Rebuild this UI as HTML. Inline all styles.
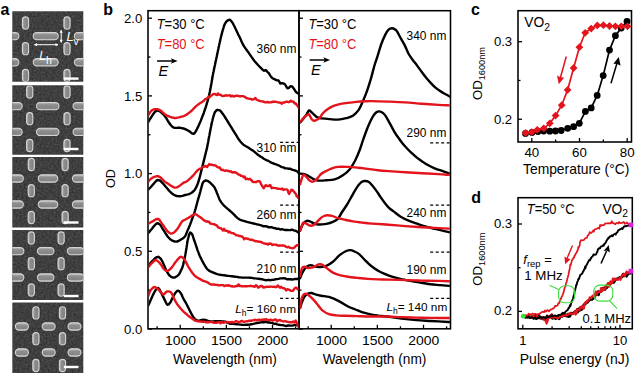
<!DOCTYPE html>
<html><head><meta charset="utf-8"><style>
html,body{margin:0;padding:0;background:#fff;width:635px;height:373px;overflow:hidden}
svg{display:block}
</style></head><body>
<svg width="635" height="373" viewBox="0 0 635 373" font-family='"Liberation Sans", sans-serif'><text x="0.60" y="14.50" font-size="16" text-anchor="start" fill="#000" font-weight="bold" >a</text>
<text x="103.30" y="14.50" font-size="16" text-anchor="start" fill="#000" font-weight="bold" >b</text>
<text x="471.00" y="14.80" font-size="16" text-anchor="start" fill="#000" font-weight="bold" >c</text>
<text x="471.30" y="202.80" font-size="16" text-anchor="start" fill="#000" font-weight="bold" >d</text>
<defs><filter id="noise" x="0" y="0" width="100%" height="100%" color-interpolation-filters="sRGB"><feTurbulence type="fractalNoise" baseFrequency="0.5" numOctaves="2" seed="3"/><feColorMatrix type="matrix" values="0.2 0 0 0 0.15  0.2 0 0 0 0.15  0.2 0 0 0 0.15  0 0 0 0 1"/></filter><filter id="tex" x="0" y="0" width="100%" height="100%" color-interpolation-filters="sRGB"><feTurbulence type="fractalNoise" baseFrequency="0.9" numOctaves="2" seed="11"/><feColorMatrix type="matrix" values="0 0 0 0 0  0 0 0 0 0  0 0 0 0 0  0 0 0 -1.2 0.6"/></filter><linearGradient id="rodh" x1="0" y1="0" x2="0" y2="1"><stop offset="0" stop-color="#c4c4c4"/><stop offset="0.3" stop-color="#929292"/><stop offset="0.8" stop-color="#858585"/><stop offset="1" stop-color="#a8a8a8"/></linearGradient><linearGradient id="rodv" x1="0" y1="0" x2="1" y2="0"><stop offset="0" stop-color="#c0c0c0"/><stop offset="0.3" stop-color="#909090"/><stop offset="0.8" stop-color="#848484"/><stop offset="1" stop-color="#a4a4a4"/></linearGradient></defs>
<clipPath id="clip0"><rect x="12.3" y="11.3" width="71.00" height="70.40"/></clipPath>
<g clip-path="url(#clip0)">
<rect x="12.3" y="11.3" width="71.00" height="70.40" fill="#454545" filter="url(#noise)"/>
<rect x="22.40" y="16.90" width="6.2" height="12.2" rx="3.1" fill="url(#rodv)" stroke="#d6d6d6" stroke-width="1.1"/>
<rect x="22.40" y="42.60" width="6.2" height="12.2" rx="3.1" fill="url(#rodv)" stroke="#d6d6d6" stroke-width="1.1"/>
<rect x="22.40" y="69.40" width="6.2" height="12.2" rx="3.1" fill="url(#rodv)" stroke="#d6d6d6" stroke-width="1.1"/>
<rect x="63.90" y="16.90" width="6.2" height="12.2" rx="3.1" fill="url(#rodv)" stroke="#d6d6d6" stroke-width="1.1"/>
<rect x="63.90" y="42.60" width="6.2" height="12.2" rx="3.1" fill="url(#rodv)" stroke="#d6d6d6" stroke-width="1.1"/>
<rect x="63.90" y="69.40" width="6.2" height="12.2" rx="3.1" fill="url(#rodv)" stroke="#d6d6d6" stroke-width="1.1"/>
<rect x="-6.10" y="32.45" width="25" height="7.3" rx="3.6" fill="url(#rodh)" stroke="#d6d6d6" stroke-width="1.1"/>
<rect x="-6.10" y="58.65" width="25" height="7.3" rx="3.6" fill="url(#rodh)" stroke="#d6d6d6" stroke-width="1.1"/>
<rect x="33.20" y="32.45" width="25" height="7.3" rx="3.6" fill="url(#rodh)" stroke="#d6d6d6" stroke-width="1.1"/>
<rect x="33.20" y="58.65" width="25" height="7.3" rx="3.6" fill="url(#rodh)" stroke="#d6d6d6" stroke-width="1.1"/>
<rect x="74.40" y="32.45" width="25" height="7.3" rx="3.6" fill="url(#rodh)" stroke="#d6d6d6" stroke-width="1.1"/>
<rect x="74.40" y="58.65" width="25" height="7.3" rx="3.6" fill="url(#rodh)" stroke="#d6d6d6" stroke-width="1.1"/>
<rect x="12.3" y="11.3" width="71.00" height="70.40" filter="url(#tex)" opacity="0.22"/>
<rect x="63.8" y="77.40" width="14.7" height="2.4" fill="#fff"/>
</g>
<clipPath id="clip1"><rect x="12.3" y="85.2" width="71.00" height="69.50"/></clipPath>
<g clip-path="url(#clip1)">
<rect x="12.3" y="85.2" width="71.00" height="69.50" fill="#454545" filter="url(#noise)"/>
<rect x="26.60" y="85.90" width="6.2" height="12.2" rx="3.1" fill="url(#rodv)" stroke="#d6d6d6" stroke-width="1.1"/>
<rect x="26.60" y="112.60" width="6.2" height="12.2" rx="3.1" fill="url(#rodv)" stroke="#d6d6d6" stroke-width="1.1"/>
<rect x="26.60" y="139.40" width="6.2" height="12.2" rx="3.1" fill="url(#rodv)" stroke="#d6d6d6" stroke-width="1.1"/>
<rect x="63.90" y="85.90" width="6.2" height="12.2" rx="3.1" fill="url(#rodv)" stroke="#d6d6d6" stroke-width="1.1"/>
<rect x="63.90" y="112.60" width="6.2" height="12.2" rx="3.1" fill="url(#rodv)" stroke="#d6d6d6" stroke-width="1.1"/>
<rect x="63.90" y="139.40" width="6.2" height="12.2" rx="3.1" fill="url(#rodv)" stroke="#d6d6d6" stroke-width="1.1"/>
<rect x="-0.35" y="102.45" width="22.5" height="7.3" rx="3.6" fill="url(#rodh)" stroke="#d6d6d6" stroke-width="1.1"/>
<rect x="-0.35" y="128.25" width="22.5" height="7.3" rx="3.6" fill="url(#rodh)" stroke="#d6d6d6" stroke-width="1.1"/>
<rect x="36.45" y="102.45" width="22.5" height="7.3" rx="3.6" fill="url(#rodh)" stroke="#d6d6d6" stroke-width="1.1"/>
<rect x="36.45" y="128.25" width="22.5" height="7.3" rx="3.6" fill="url(#rodh)" stroke="#d6d6d6" stroke-width="1.1"/>
<rect x="73.05" y="102.45" width="22.5" height="7.3" rx="3.6" fill="url(#rodh)" stroke="#d6d6d6" stroke-width="1.1"/>
<rect x="73.05" y="128.25" width="22.5" height="7.3" rx="3.6" fill="url(#rodh)" stroke="#d6d6d6" stroke-width="1.1"/>
<rect x="12.3" y="85.2" width="71.00" height="69.50" filter="url(#tex)" opacity="0.22"/>
<rect x="63.8" y="147.80" width="14.7" height="2.4" fill="#fff"/>
</g>
<clipPath id="clip2"><rect x="12.3" y="157.1" width="71.00" height="70.30"/></clipPath>
<g clip-path="url(#clip2)">
<rect x="12.3" y="157.1" width="71.00" height="70.30" fill="#454545" filter="url(#noise)"/>
<rect x="28.20" y="158.40" width="6.2" height="12.2" rx="3.1" fill="url(#rodv)" stroke="#d6d6d6" stroke-width="1.1"/>
<rect x="28.20" y="184.60" width="6.2" height="12.2" rx="3.1" fill="url(#rodv)" stroke="#d6d6d6" stroke-width="1.1"/>
<rect x="28.20" y="211.40" width="6.2" height="12.2" rx="3.1" fill="url(#rodv)" stroke="#d6d6d6" stroke-width="1.1"/>
<rect x="62.00" y="158.40" width="6.2" height="12.2" rx="3.1" fill="url(#rodv)" stroke="#d6d6d6" stroke-width="1.1"/>
<rect x="62.00" y="184.60" width="6.2" height="12.2" rx="3.1" fill="url(#rodv)" stroke="#d6d6d6" stroke-width="1.1"/>
<rect x="62.00" y="211.40" width="6.2" height="12.2" rx="3.1" fill="url(#rodv)" stroke="#d6d6d6" stroke-width="1.1"/>
<rect x="3.85" y="174.85" width="19.5" height="7.3" rx="3.6" fill="url(#rodh)" stroke="#d6d6d6" stroke-width="1.1"/>
<rect x="3.85" y="200.85" width="19.5" height="7.3" rx="3.6" fill="url(#rodh)" stroke="#d6d6d6" stroke-width="1.1"/>
<rect x="38.25" y="174.85" width="19.5" height="7.3" rx="3.6" fill="url(#rodh)" stroke="#d6d6d6" stroke-width="1.1"/>
<rect x="38.25" y="200.85" width="19.5" height="7.3" rx="3.6" fill="url(#rodh)" stroke="#d6d6d6" stroke-width="1.1"/>
<rect x="72.45" y="174.85" width="19.5" height="7.3" rx="3.6" fill="url(#rodh)" stroke="#d6d6d6" stroke-width="1.1"/>
<rect x="72.45" y="200.85" width="19.5" height="7.3" rx="3.6" fill="url(#rodh)" stroke="#d6d6d6" stroke-width="1.1"/>
<rect x="12.3" y="157.1" width="71.00" height="70.30" filter="url(#tex)" opacity="0.22"/>
<rect x="63.8" y="221.30" width="14.7" height="2.4" fill="#fff"/>
</g>
<clipPath id="clip3"><rect x="12.3" y="230.0" width="71.00" height="70.10"/></clipPath>
<g clip-path="url(#clip3)">
<rect x="12.3" y="230.0" width="71.00" height="70.10" fill="#454545" filter="url(#noise)"/>
<rect x="28.20" y="231.90" width="6.2" height="12.2" rx="3.1" fill="url(#rodv)" stroke="#d6d6d6" stroke-width="1.1"/>
<rect x="28.20" y="257.60" width="6.2" height="12.2" rx="3.1" fill="url(#rodv)" stroke="#d6d6d6" stroke-width="1.1"/>
<rect x="28.20" y="283.90" width="6.2" height="12.2" rx="3.1" fill="url(#rodv)" stroke="#d6d6d6" stroke-width="1.1"/>
<rect x="58.00" y="231.90" width="6.2" height="12.2" rx="3.1" fill="url(#rodv)" stroke="#d6d6d6" stroke-width="1.1"/>
<rect x="58.00" y="257.60" width="6.2" height="12.2" rx="3.1" fill="url(#rodv)" stroke="#d6d6d6" stroke-width="1.1"/>
<rect x="58.00" y="283.90" width="6.2" height="12.2" rx="3.1" fill="url(#rodv)" stroke="#d6d6d6" stroke-width="1.1"/>
<rect x="7.35" y="247.45" width="16.5" height="7.3" rx="3.6" fill="url(#rodh)" stroke="#d6d6d6" stroke-width="1.1"/>
<rect x="7.35" y="273.85" width="16.5" height="7.3" rx="3.6" fill="url(#rodh)" stroke="#d6d6d6" stroke-width="1.1"/>
<rect x="37.45" y="247.45" width="16.5" height="7.3" rx="3.6" fill="url(#rodh)" stroke="#d6d6d6" stroke-width="1.1"/>
<rect x="37.45" y="273.85" width="16.5" height="7.3" rx="3.6" fill="url(#rodh)" stroke="#d6d6d6" stroke-width="1.1"/>
<rect x="67.35" y="247.45" width="16.5" height="7.3" rx="3.6" fill="url(#rodh)" stroke="#d6d6d6" stroke-width="1.1"/>
<rect x="67.35" y="273.85" width="16.5" height="7.3" rx="3.6" fill="url(#rodh)" stroke="#d6d6d6" stroke-width="1.1"/>
<rect x="12.3" y="230.0" width="71.00" height="70.10" filter="url(#tex)" opacity="0.22"/>
<rect x="63.8" y="294.80" width="14.7" height="2.4" fill="#fff"/>
</g>
<clipPath id="clip4"><rect x="12.3" y="302.6" width="71.00" height="70.90"/></clipPath>
<g clip-path="url(#clip4)">
<rect x="12.3" y="302.6" width="71.00" height="70.90" fill="#454545" filter="url(#noise)"/>
<rect x="32.80" y="306.80" width="6.2" height="12.2" rx="3.1" fill="url(#rodv)" stroke="#d6d6d6" stroke-width="1.1"/>
<rect x="32.80" y="332.60" width="6.2" height="12.2" rx="3.1" fill="url(#rodv)" stroke="#d6d6d6" stroke-width="1.1"/>
<rect x="32.80" y="359.40" width="6.2" height="12.2" rx="3.1" fill="url(#rodv)" stroke="#d6d6d6" stroke-width="1.1"/>
<rect x="59.40" y="306.80" width="6.2" height="12.2" rx="3.1" fill="url(#rodv)" stroke="#d6d6d6" stroke-width="1.1"/>
<rect x="59.40" y="332.60" width="6.2" height="12.2" rx="3.1" fill="url(#rodv)" stroke="#d6d6d6" stroke-width="1.1"/>
<rect x="59.40" y="359.40" width="6.2" height="12.2" rx="3.1" fill="url(#rodv)" stroke="#d6d6d6" stroke-width="1.1"/>
<rect x="15.40" y="322.85" width="13" height="7.3" rx="3.6" fill="url(#rodh)" stroke="#d6d6d6" stroke-width="1.1"/>
<rect x="15.40" y="348.85" width="13" height="7.3" rx="3.6" fill="url(#rodh)" stroke="#d6d6d6" stroke-width="1.1"/>
<rect x="42.20" y="322.85" width="13" height="7.3" rx="3.6" fill="url(#rodh)" stroke="#d6d6d6" stroke-width="1.1"/>
<rect x="42.20" y="348.85" width="13" height="7.3" rx="3.6" fill="url(#rodh)" stroke="#d6d6d6" stroke-width="1.1"/>
<rect x="68.00" y="322.85" width="13" height="7.3" rx="3.6" fill="url(#rodh)" stroke="#d6d6d6" stroke-width="1.1"/>
<rect x="68.00" y="348.85" width="13" height="7.3" rx="3.6" fill="url(#rodh)" stroke="#d6d6d6" stroke-width="1.1"/>
<rect x="12.3" y="302.6" width="71.00" height="70.90" filter="url(#tex)" opacity="0.22"/>
<rect x="63.8" y="365.80" width="14.7" height="2.4" fill="#fff"/>
</g>
<line x1="34.50" y1="44.70" x2="58.00" y2="44.70" stroke="#fff" stroke-width="1.0"/>
<path d="M34,44.7 l3,-1.6 v3.2z M58.5,44.7 l-3,-1.6 v3.2z" fill="#fff"/>
<line x1="61.20" y1="30.30" x2="61.20" y2="42.30" stroke="#fff" stroke-width="1.0"/>
<path d="M61.2,29.8 l-1.6,3 h3.2z M61.2,42.8 l-1.6,-3 h3.2z" fill="#fff"/>
<text x="66.6" y="40.8" font-size="13" fill="#fff" font-style="italic">L<tspan font-size="10.5" font-style="normal" dx="-0.3" dy="4.3">v</tspan></text>
<text x="39.2" y="59.8" font-size="12" fill="#fff" font-style="italic">L<tspan font-size="10.5" font-style="normal" dy="3.8">h</tspan></text>
<rect x="148.0" y="10.7" width="151.0" height="318.1" fill="none" stroke="#000" stroke-width="1.55"/>
<line x1="148.00" y1="329.00" x2="152.00" y2="329.00" stroke="#000" stroke-width="1.3"/>
<line x1="148.00" y1="290.15" x2="150.50" y2="290.15" stroke="#000" stroke-width="1.3"/>
<line x1="148.00" y1="251.30" x2="152.00" y2="251.30" stroke="#000" stroke-width="1.3"/>
<line x1="148.00" y1="212.45" x2="150.50" y2="212.45" stroke="#000" stroke-width="1.3"/>
<line x1="148.00" y1="173.60" x2="152.00" y2="173.60" stroke="#000" stroke-width="1.3"/>
<line x1="148.00" y1="134.75" x2="150.50" y2="134.75" stroke="#000" stroke-width="1.3"/>
<line x1="148.00" y1="95.90" x2="152.00" y2="95.90" stroke="#000" stroke-width="1.3"/>
<line x1="148.00" y1="57.05" x2="150.50" y2="57.05" stroke="#000" stroke-width="1.3"/>
<line x1="148.00" y1="18.20" x2="152.00" y2="18.20" stroke="#000" stroke-width="1.3"/>
<line x1="157.14" y1="328.80" x2="157.14" y2="326.30" stroke="#000" stroke-width="1.3"/>
<line x1="180.21" y1="328.80" x2="180.21" y2="324.80" stroke="#000" stroke-width="1.3"/>
<text x="180.41" y="344.90" font-size="13.5" text-anchor="middle" fill="#000" textLength="31.0" lengthAdjust="spacingAndGlyphs" >1000</text>
<line x1="203.29" y1="328.80" x2="203.29" y2="326.30" stroke="#000" stroke-width="1.3"/>
<line x1="226.36" y1="328.80" x2="226.36" y2="324.80" stroke="#000" stroke-width="1.3"/>
<text x="226.56" y="344.90" font-size="13.5" text-anchor="middle" fill="#000" textLength="31.0" lengthAdjust="spacingAndGlyphs" >1500</text>
<line x1="249.44" y1="328.80" x2="249.44" y2="326.30" stroke="#000" stroke-width="1.3"/>
<line x1="272.51" y1="328.80" x2="272.51" y2="324.80" stroke="#000" stroke-width="1.3"/>
<text x="272.71" y="344.90" font-size="13.5" text-anchor="middle" fill="#000" textLength="31.0" lengthAdjust="spacingAndGlyphs" >2000</text>
<line x1="295.59" y1="328.80" x2="295.59" y2="326.30" stroke="#000" stroke-width="1.3"/>
<text x="225.00" y="363.70" font-size="14.2" text-anchor="middle" fill="#000" textLength="103.8" lengthAdjust="spacingAndGlyphs" >Wavelength (nm)</text>
<rect x="299.0" y="10.7" width="151.5" height="318.1" fill="none" stroke="#000" stroke-width="1.55"/>
<line x1="299.00" y1="329.00" x2="303.00" y2="329.00" stroke="#000" stroke-width="1.3"/>
<line x1="299.00" y1="290.15" x2="301.50" y2="290.15" stroke="#000" stroke-width="1.3"/>
<line x1="299.00" y1="251.30" x2="303.00" y2="251.30" stroke="#000" stroke-width="1.3"/>
<line x1="299.00" y1="212.45" x2="301.50" y2="212.45" stroke="#000" stroke-width="1.3"/>
<line x1="299.00" y1="173.60" x2="303.00" y2="173.60" stroke="#000" stroke-width="1.3"/>
<line x1="299.00" y1="134.75" x2="301.50" y2="134.75" stroke="#000" stroke-width="1.3"/>
<line x1="299.00" y1="95.90" x2="303.00" y2="95.90" stroke="#000" stroke-width="1.3"/>
<line x1="299.00" y1="57.05" x2="301.50" y2="57.05" stroke="#000" stroke-width="1.3"/>
<line x1="299.00" y1="18.20" x2="303.00" y2="18.20" stroke="#000" stroke-width="1.3"/>
<line x1="308.14" y1="328.80" x2="308.14" y2="326.30" stroke="#000" stroke-width="1.3"/>
<line x1="331.21" y1="328.80" x2="331.21" y2="324.80" stroke="#000" stroke-width="1.3"/>
<text x="331.41" y="344.90" font-size="13.5" text-anchor="middle" fill="#000" textLength="31.0" lengthAdjust="spacingAndGlyphs" >1000</text>
<line x1="354.29" y1="328.80" x2="354.29" y2="326.30" stroke="#000" stroke-width="1.3"/>
<line x1="377.36" y1="328.80" x2="377.36" y2="324.80" stroke="#000" stroke-width="1.3"/>
<text x="377.56" y="344.90" font-size="13.5" text-anchor="middle" fill="#000" textLength="31.0" lengthAdjust="spacingAndGlyphs" >1500</text>
<line x1="400.44" y1="328.80" x2="400.44" y2="326.30" stroke="#000" stroke-width="1.3"/>
<line x1="423.51" y1="328.80" x2="423.51" y2="324.80" stroke="#000" stroke-width="1.3"/>
<text x="423.71" y="344.90" font-size="13.5" text-anchor="middle" fill="#000" textLength="31.0" lengthAdjust="spacingAndGlyphs" >2000</text>
<line x1="446.59" y1="328.80" x2="446.59" y2="326.30" stroke="#000" stroke-width="1.3"/>
<text x="374.55" y="363.70" font-size="14.2" text-anchor="middle" fill="#000" textLength="103.8" lengthAdjust="spacingAndGlyphs" >Wavelength (nm)</text>
<text x="142.30" y="333.65" font-size="13" text-anchor="end" fill="#000" textLength="18.3" lengthAdjust="spacingAndGlyphs" >0.0</text>
<text x="142.30" y="255.95" font-size="13" text-anchor="end" fill="#000" textLength="18.3" lengthAdjust="spacingAndGlyphs" >0.5</text>
<text x="142.30" y="178.25" font-size="13" text-anchor="end" fill="#000" textLength="18.3" lengthAdjust="spacingAndGlyphs" >1.0</text>
<text x="142.30" y="100.55" font-size="13" text-anchor="end" fill="#000" textLength="18.3" lengthAdjust="spacingAndGlyphs" >1.5</text>
<text x="142.30" y="22.85" font-size="13" text-anchor="end" fill="#000" textLength="18.3" lengthAdjust="spacingAndGlyphs" >2.0</text>
<text x="0" y="0" font-size="13" text-anchor="middle" transform="translate(114.9,178.5) rotate(-90)" textLength="19" lengthAdjust="spacingAndGlyphs">OD</text>
<rect x="518.0" y="10.7" width="113.5" height="131.3" fill="none" stroke="#000" stroke-width="1.55"/>
<line x1="531.80" y1="142.00" x2="531.80" y2="138.00" stroke="#000" stroke-width="1.3"/>
<text x="531.80" y="157.20" font-size="13" text-anchor="middle" fill="#000" textLength="14.8" lengthAdjust="spacingAndGlyphs" >40</text>
<line x1="555.65" y1="142.00" x2="555.65" y2="139.50" stroke="#000" stroke-width="1.3"/>
<line x1="579.50" y1="142.00" x2="579.50" y2="138.00" stroke="#000" stroke-width="1.3"/>
<text x="579.50" y="157.20" font-size="13" text-anchor="middle" fill="#000" textLength="14.8" lengthAdjust="spacingAndGlyphs" >60</text>
<line x1="603.35" y1="142.00" x2="603.35" y2="139.50" stroke="#000" stroke-width="1.3"/>
<line x1="627.20" y1="142.00" x2="627.20" y2="138.00" stroke="#000" stroke-width="1.3"/>
<text x="627.20" y="157.20" font-size="13" text-anchor="middle" fill="#000" textLength="14.8" lengthAdjust="spacingAndGlyphs" >80</text>
<line x1="518.00" y1="119.25" x2="522.00" y2="119.25" stroke="#000" stroke-width="1.3"/>
<line x1="518.00" y1="80.47" x2="520.50" y2="80.47" stroke="#000" stroke-width="1.3"/>
<line x1="518.00" y1="41.70" x2="522.00" y2="41.70" stroke="#000" stroke-width="1.3"/>
<text x="512.20" y="46.35" font-size="13" text-anchor="end" fill="#000" textLength="18.3" lengthAdjust="spacingAndGlyphs" >0.3</text>
<text x="512.20" y="123.90" font-size="13" text-anchor="end" fill="#000" textLength="18.3" lengthAdjust="spacingAndGlyphs" >0.2</text>
<text x="576.20" y="173.80" font-size="14.2" text-anchor="middle" fill="#000" textLength="106.4" lengthAdjust="spacingAndGlyphs" >Temperature (°C)</text>
<clipPath id="cdd"><rect x="518.6" y="198.3" width="113.1" height="130.1"/></clipPath>
<rect x="518.0" y="197.7" width="114.29999999999995" height="131.10000000000002" fill="none" stroke="#000" stroke-width="1.55"/>
<line x1="522.80" y1="328.80" x2="522.80" y2="324.80" stroke="#000" stroke-width="1.3"/>
<line x1="552.06" y1="328.80" x2="552.06" y2="326.30" stroke="#000" stroke-width="1.3"/>
<line x1="569.18" y1="328.80" x2="569.18" y2="326.30" stroke="#000" stroke-width="1.3"/>
<line x1="581.32" y1="328.80" x2="581.32" y2="326.30" stroke="#000" stroke-width="1.3"/>
<line x1="590.74" y1="328.80" x2="590.74" y2="326.30" stroke="#000" stroke-width="1.3"/>
<line x1="598.44" y1="328.80" x2="598.44" y2="326.30" stroke="#000" stroke-width="1.3"/>
<line x1="604.94" y1="328.80" x2="604.94" y2="326.30" stroke="#000" stroke-width="1.3"/>
<line x1="610.58" y1="328.80" x2="610.58" y2="326.30" stroke="#000" stroke-width="1.3"/>
<line x1="615.55" y1="328.80" x2="615.55" y2="326.30" stroke="#000" stroke-width="1.3"/>
<line x1="620.00" y1="328.80" x2="620.00" y2="324.80" stroke="#000" stroke-width="1.3"/>
<text x="522.80" y="345.20" font-size="13" text-anchor="middle" fill="#000" >1</text>
<text x="620.00" y="345.20" font-size="13" text-anchor="middle" fill="#000" textLength="14.5" lengthAdjust="spacingAndGlyphs" >10</text>
<line x1="518.00" y1="311.40" x2="522.00" y2="311.40" stroke="#000" stroke-width="1.3"/>
<line x1="518.00" y1="267.70" x2="520.50" y2="267.70" stroke="#000" stroke-width="1.3"/>
<line x1="518.00" y1="224.00" x2="522.00" y2="224.00" stroke="#000" stroke-width="1.3"/>
<text x="512.20" y="228.10" font-size="13" text-anchor="end" fill="#000" textLength="18.3" lengthAdjust="spacingAndGlyphs" >0.3</text>
<text x="512.20" y="315.30" font-size="13" text-anchor="end" fill="#000" textLength="18.3" lengthAdjust="spacingAndGlyphs" >0.2</text>
<text x="574.60" y="363.90" font-size="14.2" text-anchor="middle" fill="#000" textLength="109.6" lengthAdjust="spacingAndGlyphs" >Pulse energy (nJ)</text>
<clipPath id="cbl"><rect x="148.6" y="11.2" width="150" height="317.2"/></clipPath>
<clipPath id="cbr"><rect x="299.6" y="11.2" width="150.3" height="317.2"/></clipPath>
<g clip-path="url(#cbl)">
<path d="M147.9,122.5 L148.6,121.4 L149.6,119.7 L150.7,118.0 L151.7,116.4 L152.9,114.6 L154.0,113.0 L155.0,111.7 L157.7,110.4 L159.3,111.1 L161.1,112.4 L162.4,113.5 L163.7,114.7 L165.1,116.4 L166.0,117.7 L167.0,119.3 L167.9,120.9 L168.9,122.5 L169.8,123.8 L171.1,125.5 L172.3,126.7 L173.8,127.6 L175.2,127.9 L176.7,127.9 L178.3,127.8 L179.8,127.8 L181.7,128.1 L183.5,128.5 L185.2,129.1 L186.8,129.9 L188.4,130.7 L189.9,131.6 L191.9,133.3 L193.8,133.8 L194.6,133.1 L195.4,131.9 L196.3,130.4 L197.1,128.7 L197.9,127.1 L198.6,125.7 L199.3,124.1 L200.0,122.5 L200.7,120.9 L201.3,119.3 L201.9,117.8 L202.5,116.2 L203.1,114.7 L203.7,113.2 L204.2,111.7 L204.8,110.0 L205.2,108.7 L205.7,107.3 L206.1,105.9 L206.6,104.4 L207.0,102.9 L207.5,101.4 L207.9,99.9 L208.3,98.4 L208.7,96.8 L209.1,95.2 L209.4,93.6 L209.8,92.0 L210.1,90.3 L210.5,88.5 L210.8,87.1 L211.0,85.6 L211.3,84.1 L211.6,82.5 L211.8,80.9 L212.1,79.4 L212.4,77.8 L212.6,76.3 L212.9,74.9 L213.2,73.1 L213.6,71.4 L213.9,69.7 L214.3,68.1 L214.6,66.5 L215.0,64.8 L215.3,63.2 L215.6,61.6 L216.0,60.0 L216.3,58.4 L216.7,56.8 L217.0,55.2 L217.4,53.6 L217.7,52.0 L218.0,50.4 L218.4,48.7 L218.7,47.1 L219.1,45.4 L219.4,43.8 L219.8,42.2 L220.1,40.7 L220.5,39.0 L220.9,37.3 L221.3,35.7 L221.7,34.1 L222.1,32.5 L222.5,31.1 L223.0,29.4 L223.5,27.8 L223.9,26.3 L224.4,25.0 L224.9,23.8 L226.1,21.8 L227.3,20.6 L229.7,19.6 L230.9,20.6 L232.1,22.2 L232.9,23.4 L233.6,24.8 L234.5,26.5 L235.1,27.8 L235.8,29.2 L236.5,30.7 L237.2,32.2 L237.8,33.5 L238.5,35.0 L239.2,36.3 L239.9,37.7 L240.5,39.0 L241.1,40.4 L241.8,41.9 L242.4,43.3 L243.0,44.5 L244.1,46.3 L245.3,48.1 L246.2,49.4 L247.2,50.8 L248.3,52.2 L249.3,53.7 L250.3,55.1 L251.3,56.6 L252.3,58.0 L253.3,59.4 L254.3,60.7 L255.3,61.9 L256.3,63.1 L257.3,64.2 L258.7,65.7 L260.1,67.2 L261.3,68.4 L262.8,69.9 L264.1,70.7 L265.8,70.0 L267.4,71.8 L268.4,72.8 L269.5,74.3 L270.6,76.1 L271.7,77.6 L273.0,78.5 L274.3,79.1 L277.0,80.4 L278.6,80.5 L279.4,81.9 L280.2,83.5 L282.4,83.1 L283.7,83.6 L285.1,84.6 L286.0,85.9 L286.8,87.6 L287.7,88.4 L289.1,87.6 L290.4,86.3 L292.0,86.4 L293.1,87.6 L294.2,89.2 L295.2,90.9 L296.3,92.3 L297.7,93.3 L299.0,94.1 L300.0,94.9" fill="none" stroke="#000" stroke-width="2.4" stroke-linejoin="round"/>
<path d="M147.9,115.8 L148.3,115.1 L148.9,114.1 L149.7,113.0 L150.4,111.9 L151.0,111.1 L152.3,110.0 L153.5,109.5 L154.9,109.1 L156.4,109.1 L157.3,109.2 L158.3,109.5 L159.3,109.8 L160.4,110.4 L161.2,110.9 L161.9,111.6 L162.7,112.4 L163.6,113.1 L164.3,113.8 L165.1,114.4 L166.1,115.1 L167.1,115.6 L168.0,116.0 L169.1,116.4 L170.1,116.8 L171.2,117.2 L172.3,117.6 L173.4,117.8 L174.5,118.0 L175.6,118.0 L176.6,117.9 L177.7,117.6 L178.7,117.4 L179.8,117.1 L180.9,116.8 L182.0,116.6 L183.0,116.3 L184.1,115.9 L185.2,115.4 L186.1,114.9 L187.0,114.4 L187.8,113.8 L188.7,113.1 L189.6,112.4 L190.5,111.7 L191.3,111.0 L192.0,110.3 L192.8,109.5 L193.6,108.7 L194.4,107.9 L195.1,107.1 L195.9,106.4 L196.8,105.6 L197.7,104.9 L198.6,104.2 L199.5,103.6 L200.4,102.9 L201.2,102.6 L202.3,101.8 L203.2,101.1 L204.1,100.6 L205.0,99.2 L206.0,98.9 L207.0,98.3 L208.0,97.6 L209.0,96.8 L210.0,96.9 L211.0,95.8 L212.0,95.3 L213.0,94.1 L214.0,94.0 L214.9,94.0 L215.9,94.6 L217.0,95.1 L217.9,93.4 L218.8,94.5 L219.8,94.7 L220.9,95.0 L222.0,95.9 L223.0,96.0 L224.1,95.9 L225.3,95.5 L226.4,95.3 L227.6,95.6 L228.7,95.4 L229.8,95.2 L230.9,96.5 L232.0,95.6 L233.1,96.3 L234.2,96.5 L235.3,95.9 L236.4,95.7 L237.5,95.6 L238.7,96.1 L239.8,96.3 L240.9,96.3 L242.0,96.1 L243.1,96.1 L244.2,96.8 L245.3,96.9 L246.4,98.3 L247.5,98.3 L248.6,98.6 L249.7,98.9 L250.8,98.9 L252.0,99.6 L253.1,99.5 L254.2,99.0 L255.3,97.9 L256.4,99.7 L257.5,100.0 L258.6,100.5 L259.7,100.9 L260.8,101.2 L261.9,101.4 L263.0,101.5 L264.1,101.9 L265.2,102.4 L266.4,102.4 L267.5,101.9 L268.6,102.5 L269.7,102.4 L270.8,102.4 L271.9,102.0 L273.0,101.6 L274.1,101.7 L275.2,101.7 L276.3,101.9 L277.4,102.2 L278.6,102.4 L279.7,102.7 L280.8,102.8 L281.9,103.7 L283.0,102.5 L284.2,102.6 L285.3,102.0 L286.4,101.7 L287.5,101.8 L288.5,102.2 L289.6,101.8 L290.7,100.7 L291.7,101.6 L292.6,101.4 L293.5,101.6 L294.5,103.4 L295.3,103.1 L296.1,104.0 L296.8,105.1 L297.6,105.8 L298.2,107.0 L298.8,107.8 L300.0,109.0" fill="none" stroke="#e3141c" stroke-width="2.4" stroke-linejoin="round"/>
<path d="M147.0,190.9 L148.2,189.7 L149.4,188.5 L150.9,187.0 L151.9,185.8 L153.0,184.5 L154.1,183.2 L155.2,182.0 L156.3,180.8 L157.3,180.0 L160.0,180.5 L161.0,181.4 L162.1,182.6 L163.2,183.8 L164.3,185.0 L165.3,186.2 L166.4,187.5 L167.5,188.8 L168.6,190.1 L169.7,191.3 L170.9,192.5 L172.1,193.6 L173.4,194.5 L175.3,195.5 L177.2,196.1 L179.4,196.3 L181.5,196.1 L183.2,195.6 L185.0,195.0 L186.5,194.7 L188.1,194.3 L189.7,193.8 L191.2,193.0 L192.6,192.0 L193.8,190.9 L194.8,189.7 L195.6,188.4 L196.4,186.9 L197.1,185.3 L197.8,183.5 L198.5,181.5 L198.9,180.2 L199.3,178.7 L199.7,177.2 L200.1,175.7 L200.5,174.1 L200.9,172.5 L201.3,170.9 L201.7,169.3 L202.1,167.7 L202.5,166.1 L202.9,164.5 L203.3,162.9 L203.7,161.2 L204.1,159.6 L204.5,158.0 L204.9,156.4 L205.3,154.7 L205.7,153.1 L206.1,151.5 L206.5,150.0 L206.9,148.4 L207.2,146.9 L207.5,145.3 L207.9,143.2 L208.2,141.9 L208.4,140.4 L208.7,138.8 L209.0,137.1 L209.4,135.4 L209.7,133.6 L210.0,132.0 L210.3,130.4 L210.6,128.7 L211.0,126.9 L211.3,125.2 L211.7,123.6 L212.0,122.0 L212.4,120.5 L212.7,119.1 L213.2,117.3 L213.7,115.7 L214.1,114.2 L214.6,112.9 L215.1,111.9 L216.3,110.4 L217.5,109.8 L219.9,110.3 L220.9,111.3 L221.9,112.7 L223.1,114.3 L223.9,115.4 L224.7,116.7 L225.5,118.0 L226.4,119.4 L227.2,120.7 L228.0,122.0 L228.8,123.3 L229.6,124.6 L230.4,125.9 L231.2,127.2 L232.0,128.5 L232.8,129.8 L233.6,131.0 L234.4,132.3 L235.2,133.6 L236.0,134.9 L236.8,136.2 L237.6,137.6 L238.4,138.8 L239.2,140.0 L240.2,141.3 L241.2,142.5 L242.3,143.6 L243.4,144.6 L244.6,145.5 L246.0,146.3 L247.3,147.0 L248.6,147.8 L250.3,148.9 L251.9,149.9 L253.6,151.1 L254.8,152.1 L256.0,153.2 L257.2,154.2 L258.6,155.3 L259.8,156.1 L261.1,157.0 L262.5,157.6 L263.8,158.8 L265.2,159.5 L266.9,160.3 L268.6,160.9 L270.2,162.1 L271.9,162.9 L273.6,163.5 L275.2,164.2 L276.8,164.7 L278.5,165.3 L280.2,166.2 L281.8,167.1 L283.5,167.4 L285.2,168.4 L286.9,168.4 L288.7,168.7 L290.4,168.8 L291.9,169.7 L293.8,170.1 L295.4,170.7 L296.8,171.2 L298.0,172.0 L298.8,173.5 L300.0,175.1" fill="none" stroke="#000" stroke-width="2.4" stroke-linejoin="round"/>
<path d="M147.0,182.8 L148.2,181.6 L148.8,180.9 L149.6,180.0 L150.5,179.1 L151.4,178.4 L152.3,177.8 L153.3,177.3 L154.3,176.9 L155.2,176.6 L156.3,176.3 L157.4,176.2 L158.4,176.3 L159.5,176.8 L160.5,177.5 L161.6,178.4 L162.4,179.1 L163.2,180.0 L164.0,180.8 L164.8,181.6 L165.9,182.4 L167.0,183.1 L168.1,183.8 L169.2,184.5 L170.2,185.2 L171.3,185.9 L172.4,186.5 L173.4,187.1 L174.5,187.5 L175.6,187.6 L176.6,187.4 L177.7,187.0 L178.8,186.4 L179.9,185.6 L180.9,184.8 L181.8,184.1 L182.7,183.3 L183.6,182.7 L184.5,182.3 L185.5,182.0 L186.5,181.5 L187.3,181.0 L188.0,180.3 L188.8,179.6 L189.7,178.8 L190.5,178.1 L191.3,177.3 L192.2,176.5 L193.0,175.6 L193.8,174.8 L194.5,174.0 L195.1,173.1 L195.8,172.3 L196.4,171.5 L197.1,170.8 L198.0,170.0 L199.0,169.3 L200.0,168.7 L201.1,168.4 L202.0,167.6 L202.9,167.0 L203.9,166.9 L204.8,166.2 L205.8,165.9 L207.0,167.1 L208.2,165.5 L209.3,164.1 L210.5,164.8 L211.7,164.7 L212.8,165.0 L214.0,165.2 L215.0,165.4 L216.1,165.8 L217.1,166.8 L218.2,167.4 L219.0,167.7 L219.9,167.4 L220.8,169.4 L222.0,170.1 L222.9,169.8 L224.0,170.6 L225.2,170.8 L226.4,170.4 L227.6,171.0 L228.7,170.9 L229.8,171.6 L231.0,171.3 L232.1,172.5 L233.2,172.1 L234.3,172.2 L235.3,172.5 L236.4,172.9 L237.4,173.5 L238.3,174.5 L239.1,174.6 L240.0,175.0 L241.0,175.9 L242.0,175.9 L242.9,176.5 L243.8,177.3 L244.8,176.6 L245.8,179.2 L246.8,178.6 L247.6,179.0 L248.8,179.2 L249.9,178.8 L250.6,179.8 L251.5,180.2 L252.3,181.5 L253.2,182.1 L254.5,181.9 L255.9,182.2 L257.0,181.4 L258.9,181.1 L259.5,181.4 L260.1,181.7 L260.8,183.8 L261.4,184.5 L262.2,186.2 L262.9,186.7 L263.6,188.3 L264.4,187.0 L265.3,185.6 L266.0,185.2 L267.0,186.0 L267.9,185.8 L269.0,186.1 L270.2,185.0 L271.0,186.5 L271.7,188.2 L272.6,187.7 L273.6,187.9 L274.7,188.1 L275.9,188.1 L277.1,188.5 L278.4,188.8 L279.7,188.9 L281.0,189.2 L282.3,188.4 L283.5,190.0 L285.0,189.4 L286.3,189.4 L287.0,189.5 L287.7,190.2 L288.4,192.7 L289.1,193.9 L289.7,192.8 L290.3,191.8 L290.9,190.7 L291.5,189.6 L292.3,189.8 L293.1,190.9 L293.9,191.5 L294.6,192.4 L295.4,193.4 L296.1,194.5 L296.7,196.4 L297.5,196.3 L298.1,197.7 L299.1,198.5 L300.0,199.6" fill="none" stroke="#e3141c" stroke-width="2.4" stroke-linejoin="round"/>
<path d="M147.5,233.9 L148.2,233.1 L149.3,231.9 L150.4,230.5 L151.6,229.2 L152.5,228.1 L153.9,226.3 L155.0,225.0 L156.2,223.8 L157.5,223.1 L160.0,224.5 L160.8,225.6 L161.7,227.1 L162.7,228.8 L163.7,230.4 L164.5,231.7 L165.4,233.1 L166.3,234.5 L167.2,235.9 L168.1,237.0 L169.6,238.6 L171.0,239.8 L172.5,240.7 L174.0,241.3 L175.5,241.6 L177.0,241.5 L178.5,241.0 L180.0,240.1 L181.4,239.2 L182.7,238.4 L184.0,237.5 L185.1,236.3 L185.9,234.7 L186.6,232.9 L187.3,231.1 L188.0,229.4 L188.8,227.8 L189.5,226.0 L190.1,224.6 L190.6,223.1 L191.2,221.6 L191.7,220.1 L192.2,218.7 L192.8,217.2 L193.3,215.8 L193.9,214.2 L194.3,212.8 L194.8,211.3 L195.2,209.8 L195.7,208.3 L196.1,206.8 L196.5,205.3 L196.9,203.8 L197.3,202.3 L197.7,200.8 L198.1,199.4 L198.5,197.9 L199.0,196.4 L199.4,195.0 L199.8,193.5 L200.2,192.1 L200.6,190.5 L201.0,188.9 L201.4,187.5 L201.8,186.2 L202.4,183.9 L203.0,182.3 L204.3,181.1 L205.7,180.4 L208.2,181.2 L209.6,182.2 L211.1,183.6 L212.3,184.8 L213.6,186.2 L214.8,187.9 L215.5,189.4 L216.2,191.0 L216.8,192.7 L217.5,194.3 L218.1,195.9 L218.8,197.6 L219.4,199.2 L220.2,200.7 L221.1,202.1 L222.0,203.3 L223.0,204.5 L224.0,205.6 L225.4,206.9 L226.8,208.1 L228.2,209.3 L229.6,210.5 L230.9,211.7 L232.5,213.1 L233.6,214.2 L234.8,215.4 L236.0,216.7 L237.3,217.9 L238.6,218.9 L240.2,219.8 L241.9,220.4 L243.6,220.9 L245.3,221.4 L247.0,221.9 L248.6,222.3 L250.2,222.7 L251.9,223.1 L253.6,223.5 L255.3,223.9 L256.9,224.3 L258.6,224.7 L260.3,225.1 L261.9,225.6 L263.5,226.3 L265.2,226.1 L266.9,226.4 L268.6,227.4 L270.2,227.1 L271.9,227.3 L273.6,228.0 L275.2,228.2 L276.8,228.9 L278.5,228.7 L280.2,229.5 L281.8,229.2 L283.5,229.6 L285.2,230.0 L287.0,229.9 L288.8,230.1 L290.5,230.0 L291.9,229.6 L293.7,230.4 L295.0,230.6 L296.4,231.2 L297.7,232.0 L300.0,233.8" fill="none" stroke="#000" stroke-width="2.4" stroke-linejoin="round"/>
<path d="M147.5,223.9 L148.2,223.6 L149.2,223.1 L150.4,222.5 L151.5,221.9 L152.5,221.4 L153.7,220.7 L154.6,220.0 L155.5,219.5 L157.0,219.0 L158.3,218.9 L159.1,219.5 L160.0,220.8 L160.5,221.5 L161.1,222.3 L161.7,223.2 L162.4,224.2 L163.1,225.1 L163.7,226.0 L164.3,226.9 L164.9,227.8 L165.5,228.7 L166.2,229.6 L166.8,230.4 L167.4,231.1 L168.3,232.0 L169.3,232.8 L170.2,233.3 L171.1,233.6 L172.3,233.4 L173.5,232.8 L174.7,231.9 L175.4,231.2 L176.2,230.4 L176.9,229.4 L177.7,228.4 L178.4,227.4 L179.0,226.5 L179.6,225.4 L180.2,224.3 L180.9,223.2 L181.5,222.3 L182.1,221.5 L183.0,220.7 L183.9,220.2 L184.9,219.8 L185.8,219.3 L186.7,218.8 L187.7,218.2 L188.6,217.7 L189.5,217.1 L190.5,216.5 L191.4,215.9 L192.4,215.3 L193.2,214.9 L194.3,214.3 L195.4,214.2 L196.2,214.5 L197.1,215.0 L198.0,215.7 L199.1,216.4 L199.9,216.9 L200.7,217.7 L201.5,218.1 L202.4,218.9 L203.3,219.8 L204.2,220.4 L205.1,220.8 L206.1,221.6 L207.1,221.3 L208.1,221.9 L209.1,221.6 L210.0,223.6 L211.1,223.6 L212.1,223.9 L213.1,224.1 L214.0,224.2 L215.0,224.6 L216.0,225.2 L217.0,225.6 L217.9,227.1 L218.9,227.6 L219.8,228.1 L220.9,228.3 L221.9,229.1 L222.9,230.5 L224.0,228.8 L225.1,230.5 L226.2,230.9 L227.4,230.9 L228.7,232.4 L229.5,231.6 L230.4,232.4 L231.4,233.0 L232.4,233.1 L233.4,233.2 L234.3,234.0 L235.3,234.4 L236.3,235.3 L237.2,235.4 L238.2,235.5 L239.1,236.0 L240.1,236.0 L241.0,236.3 L242.0,236.5 L243.1,237.4 L244.2,239.3 L245.3,238.3 L246.4,238.4 L247.5,238.8 L248.6,239.0 L249.7,239.5 L250.8,239.9 L252.0,239.6 L253.1,240.3 L254.2,240.7 L255.3,241.2 L256.4,241.1 L257.5,241.4 L258.6,241.7 L259.7,241.6 L260.8,241.9 L261.9,242.4 L262.9,243.0 L263.9,243.4 L264.8,243.5 L265.8,244.0 L266.8,243.6 L268.0,244.7 L269.0,243.5 L270.1,243.8 L271.2,243.7 L272.4,245.1 L273.6,244.5 L274.8,244.6 L275.9,244.7 L276.9,245.0 L278.2,245.7 L279.3,245.5 L280.4,245.5 L281.5,245.6 L282.5,245.3 L283.5,245.6 L284.6,245.7 L285.7,246.7 L286.7,247.1 L287.6,247.2 L288.5,246.8 L289.8,247.7 L290.8,247.9 L291.9,248.1 L293.0,248.3 L294.2,247.7 L295.2,246.4 L296.1,246.0 L296.9,245.2 L297.7,245.1 L299.0,244.6 L300.0,243.9" fill="none" stroke="#e3141c" stroke-width="2.4" stroke-linejoin="round"/>
<path d="M147.5,266.8 L148.6,265.3 L150.0,263.5 L151.2,262.2 L152.5,261.0 L154.0,259.4 L155.5,258.0 L156.9,257.1 L158.3,256.8 L160.5,258.5 L161.4,259.7 L162.5,261.8 L163.1,263.0 L163.7,264.6 L164.5,266.2 L165.2,268.0 L165.9,269.6 L166.6,270.9 L167.7,273.0 L168.8,274.6 L169.9,275.9 L171.2,276.9 L172.7,277.5 L174.1,277.6 L175.6,277.1 L177.0,276.2 L178.3,275.1 L179.3,273.9 L180.0,272.5 L180.8,270.9 L181.4,269.5 L182.1,268.1 L182.7,266.4 L183.3,264.3 L183.6,262.9 L184.0,261.4 L184.3,259.7 L184.7,258.0 L185.0,256.2 L185.4,254.4 L185.7,252.6 L186.0,251.1 L186.2,249.6 L186.5,247.9 L186.7,246.3 L187.0,244.7 L187.2,243.1 L187.5,241.6 L187.7,240.2 L188.0,239.0 L188.6,236.7 L189.1,234.8 L189.7,233.4 L190.2,232.5 L192.0,234.0 L192.5,235.1 L193.0,236.5 L193.5,238.2 L194.1,240.0 L194.8,242.0 L195.3,243.4 L195.8,244.9 L196.3,246.5 L196.9,248.1 L197.4,249.8 L198.0,251.4 L198.6,252.9 L199.1,254.3 L199.8,255.9 L200.5,257.4 L201.2,258.8 L201.8,260.1 L202.5,261.4 L203.2,262.6 L204.0,264.1 L204.9,265.6 L205.7,267.0 L206.6,268.3 L207.4,269.3 L208.7,270.4 L209.9,271.1 L211.5,271.8 L213.0,272.5 L214.7,273.1 L216.5,273.8 L218.2,274.3 L220.2,274.8 L222.2,275.1 L224.0,275.3 L225.6,275.5 L227.0,275.7 L228.7,275.9 L230.2,276.1 L231.9,276.3 L233.6,276.5 L235.3,276.7 L237.0,276.9 L238.7,277.2 L240.3,277.4 L242.0,277.6 L243.7,277.6 L245.3,277.6 L246.9,277.6 L248.6,277.6 L250.3,277.7 L252.0,277.9 L253.6,278.2 L255.3,278.4 L257.0,278.6 L258.6,278.8 L260.2,279.0 L261.9,279.2 L263.6,279.7 L265.2,280.0 L266.9,280.2 L268.6,279.8 L270.3,280.2 L271.9,279.9 L273.5,279.8 L275.2,279.3 L276.9,279.1 L278.6,278.9 L280.2,278.4 L281.9,278.4 L283.6,278.1 L285.2,278.4 L286.8,279.2 L288.5,279.1 L290.2,279.3 L292.0,279.5 L293.7,279.2 L295.2,278.9 L297.3,279.0 L298.8,278.5 L300.0,278.2" fill="none" stroke="#000" stroke-width="2.4" stroke-linejoin="round"/>
<path d="M147.5,268.4 L147.9,267.8 L148.6,266.8 L149.3,265.9 L150.0,265.0 L150.8,264.1 L151.6,263.4 L152.5,262.6 L153.2,261.8 L154.0,261.0 L154.9,260.3 L155.8,260.1 L156.6,260.3 L157.4,260.9 L158.3,261.6 L159.2,262.5 L160.0,263.4 L160.6,264.1 L161.2,265.0 L161.8,266.0 L162.4,266.9 L163.0,267.9 L163.6,268.7 L164.1,269.3 L165.3,270.3 L166.3,270.9 L167.5,270.9 L168.3,270.6 L169.1,270.1 L169.9,269.3 L170.8,268.5 L171.6,267.6 L172.2,266.9 L172.8,266.1 L173.4,265.2 L173.9,264.4 L174.5,263.5 L175.2,262.6 L175.8,261.8 L176.5,261.0 L177.2,260.1 L177.9,259.2 L178.7,258.3 L179.4,257.6 L180.1,257.1 L180.8,256.8 L181.7,256.9 L182.5,257.4 L183.3,258.2 L184.1,259.2 L184.9,260.3 L185.4,261.1 L185.9,261.9 L186.4,262.9 L186.9,263.9 L187.4,264.9 L187.9,266.0 L188.5,267.0 L189.1,268.0 L189.7,268.9 L190.3,269.8 L190.9,270.7 L191.5,271.7 L192.2,272.6 L192.8,273.5 L193.5,274.3 L194.2,275.1 L194.9,275.8 L195.8,276.6 L196.8,277.3 L197.7,277.8 L198.7,278.4 L199.7,278.9 L200.6,279.4 L201.5,279.8 L202.4,280.4 L203.3,281.1 L204.2,281.0 L205.0,281.3 L205.9,281.8 L206.9,281.9 L207.8,282.6 L208.8,283.1 L209.9,284.0 L210.9,284.5 L212.0,284.4 L213.1,284.5 L214.2,284.5 L215.3,284.8 L216.4,284.9 L217.6,285.0 L218.7,285.4 L219.8,285.3 L220.9,285.1 L222.0,285.1 L223.2,285.1 L224.3,286.1 L225.3,285.6 L226.4,285.3 L227.5,285.7 L228.7,285.2 L229.6,285.8 L230.4,285.9 L231.3,286.3 L232.2,286.2 L233.1,286.6 L234.2,286.6 L235.4,286.2 L236.7,286.0 L237.5,286.1 L238.5,284.4 L239.4,286.0 L240.4,285.8 L241.5,286.2 L242.6,286.3 L243.7,286.4 L244.8,286.1 L245.9,286.2 L247.1,286.2 L248.2,286.1 L249.3,286.1 L250.4,285.8 L251.5,286.0 L252.6,286.1 L253.7,286.5 L254.8,286.7 L255.9,285.3 L257.0,285.8 L258.1,287.6 L259.2,287.2 L260.3,286.2 L261.4,286.0 L262.4,286.2 L263.4,287.6 L264.4,287.2 L265.3,287.4 L266.2,286.7 L267.5,286.9 L268.6,286.6 L269.7,286.7 L270.7,286.6 L271.7,286.6 L272.6,286.8 L273.5,286.9 L274.3,286.7 L275.2,287.1 L276.5,287.1 L277.7,285.4 L278.9,286.6 L280.0,287.8 L281.0,286.8 L281.9,287.4 L283.2,288.2 L284.1,288.3 L285.0,288.8 L286.1,290.4 L287.2,289.3 L288.3,289.5 L289.6,289.8 L290.8,290.8 L291.9,290.9 L292.8,290.9 L293.5,290.2 L294.1,289.0 L294.7,288.4 L295.5,287.7 L296.5,287.8 L297.7,289.3 L298.6,288.6 L300.0,288.7" fill="none" stroke="#e3141c" stroke-width="2.4" stroke-linejoin="round"/>
<path d="M148.0,306.1 L148.5,305.0 L149.2,303.5 L150.0,301.7 L150.7,300.1 L151.4,298.6 L152.0,297.0 L152.7,295.5 L153.4,294.1 L154.3,292.3 L155.3,290.7 L156.1,289.4 L158.1,288.0 L159.1,288.9 L160.1,290.7 L160.7,291.9 L161.4,293.2 L162.1,294.7 L162.8,296.1 L163.7,297.9 L164.6,299.8 L165.4,301.4 L166.4,303.6 L167.4,304.8 L168.7,304.4 L170.1,302.8 L170.8,301.7 L171.4,300.3 L172.1,298.8 L172.8,297.4 L173.7,295.7 L174.6,294.0 L175.5,292.7 L176.8,291.2 L178.2,290.7 L179.6,291.6 L180.9,293.4 L181.8,295.0 L182.6,297.0 L183.5,298.8 L184.4,300.4 L185.3,301.9 L186.2,303.5 L187.1,305.2 L188.0,307.0 L188.9,308.8 L189.6,310.2 L190.3,311.6 L191.0,313.0 L191.6,314.2 L192.6,316.0 L193.6,317.5 L194.8,318.8 L196.0,319.8 L198.0,320.8 L199.7,320.5 L201.8,320.0 L203.9,319.8 L205.3,320.0 L206.7,320.5 L208.1,321.0 L209.8,321.3 L211.4,321.4 L213.3,321.4 L215.2,321.3 L217.0,321.3 L218.7,321.3 L220.5,321.3 L222.1,321.4 L223.6,321.5 L225.0,321.7 L226.5,322.2 L227.8,322.9 L229.4,323.5 L231.0,323.8 L232.9,323.9 L234.8,324.1 L236.7,324.2 L238.5,324.4 L240.4,324.6 L242.2,324.8 L244.1,324.9 L246.0,324.8 L247.8,324.7 L249.7,324.5 L251.5,324.2 L253.3,323.9 L255.2,323.4 L257.0,323.0 L258.8,322.7 L260.6,322.4 L262.5,322.3 L264.3,322.2 L266.2,321.8 L267.7,322.5 L269.2,322.2 L270.6,322.9 L272.1,322.9 L273.6,323.7 L275.4,323.6 L277.2,324.4 L279.1,324.8 L280.9,325.1 L282.7,325.1 L284.6,325.7 L286.4,326.0 L288.3,325.4 L290.3,325.6 L292.3,325.6 L294.2,325.2 L295.7,324.9 L297.5,325.1 L298.6,326.0 L300.0,325.8" fill="none" stroke="#000" stroke-width="2.4" stroke-linejoin="round"/>
<path d="M148.0,296.8 L148.3,296.0 L148.6,294.9 L149.1,293.7 L149.5,292.4 L150.0,291.4 L150.6,290.4 L151.3,289.4 L152.1,288.6 L152.7,288.0 L153.7,287.2 L154.7,287.0 L155.5,287.3 L156.4,287.9 L157.4,288.7 L158.2,289.4 L159.1,290.3 L159.9,291.3 L160.7,292.1 L161.7,293.2 L162.6,294.2 L163.4,294.7 L164.4,293.9 L165.4,292.7 L166.4,291.9 L167.4,291.4 L168.7,291.4 L170.1,291.8 L170.8,292.3 L171.5,293.1 L172.1,294.1 L172.5,294.9 L172.9,295.8 L173.3,296.8 L173.7,297.8 L174.2,298.8 L174.7,299.7 L175.1,300.7 L175.6,301.6 L176.2,302.5 L176.8,303.5 L177.4,304.4 L178.1,305.3 L178.8,306.2 L179.5,307.1 L180.2,308.0 L180.9,308.8 L181.7,309.7 L182.5,310.5 L183.3,311.3 L184.1,312.1 L184.9,312.8 L185.7,313.5 L186.5,314.2 L187.3,314.9 L188.1,315.6 L188.9,316.2 L189.9,317.0 L191.0,317.8 L192.0,318.5 L192.9,319.1 L193.8,319.8 L194.6,320.4 L196.0,320.9 L196.9,321.1 L197.8,321.3 L198.9,321.4 L200.1,321.5 L201.3,321.6 L202.6,321.7 L203.9,321.9 L204.8,321.7 L205.8,322.3 L206.8,322.3 L207.8,322.0 L208.9,322.3 L209.9,321.9 L211.0,321.9 L212.1,322.2 L213.1,322.3 L214.2,322.8 L215.3,322.9 L216.3,322.7 L217.4,322.5 L218.4,322.2 L219.5,322.2 L220.6,323.3 L221.7,322.1 L222.8,322.5 L223.9,322.7 L225.0,322.1 L226.0,322.0 L227.0,322.0 L228.0,322.3 L229.1,322.3 L230.1,322.2 L231.1,322.2 L232.2,322.0 L233.3,322.4 L234.4,322.4 L235.5,321.2 L236.7,321.3 L237.7,321.6 L238.7,322.2 L239.7,322.0 L240.7,321.4 L241.8,320.9 L242.8,321.3 L243.9,321.8 L245.0,321.6 L246.1,321.4 L247.2,321.2 L248.3,321.0 L249.4,320.7 L250.4,320.7 L251.5,320.8 L252.6,320.4 L253.6,320.1 L254.7,319.8 L255.7,320.0 L256.8,320.3 L257.8,320.0 L258.9,319.8 L259.9,320.0 L261.0,319.9 L262.0,319.7 L263.1,319.8 L264.1,319.5 L265.2,319.9 L266.2,319.1 L267.3,320.0 L268.4,319.9 L269.5,320.2 L270.6,319.6 L271.7,320.1 L272.9,320.6 L274.0,319.9 L275.1,319.5 L276.2,319.7 L277.2,321.5 L278.2,320.5 L279.2,320.3 L280.1,320.0 L280.9,320.7 L282.4,321.2 L283.6,321.5 L284.7,321.0 L285.6,321.4 L286.5,321.5 L287.4,321.9 L288.3,321.9 L289.6,322.3 L291.0,322.1 L292.2,322.3 L293.3,321.5 L294.2,322.5 L295.1,321.4 L295.7,320.5 L296.1,321.3 L296.5,321.9 L296.9,323.0 L297.4,324.1 L297.8,325.0 L298.3,326.3 L298.6,326.7 L299.2,328.0 L299.7,329.6 L300.0,329.9" fill="none" stroke="#e3141c" stroke-width="2.4" stroke-linejoin="round"/>
</g>
<g clip-path="url(#cbr)">
<path d="M299.80,123.00 C300.42,122.25 302.35,119.98 303.50,118.50 C304.65,117.02 305.77,115.45 306.70,114.10 C307.63,112.75 308.32,110.73 309.10,110.40 C309.88,110.07 310.57,111.38 311.40,112.10 C312.23,112.82 313.20,113.87 314.10,114.70 C315.00,115.53 315.90,116.53 316.80,117.10 C317.70,117.67 318.75,117.88 319.50,118.10 C320.25,118.32 319.62,118.23 321.30,118.40 C322.98,118.57 326.83,118.90 329.60,119.10 C332.37,119.30 335.13,119.75 337.90,119.60 C340.67,119.45 343.70,118.85 346.20,118.20 C348.70,117.55 350.82,117.08 352.90,115.70 C354.98,114.32 357.13,112.12 358.70,109.90 C360.27,107.68 361.00,105.32 362.30,102.40 C363.60,99.48 365.05,96.42 366.50,92.40 C367.95,88.38 369.65,82.87 371.00,78.30 C372.35,73.73 373.60,68.40 374.60,65.00 C375.60,61.60 375.92,61.30 377.00,57.90 C378.08,54.50 379.72,48.48 381.10,44.60 C382.48,40.72 384.05,37.10 385.30,34.60 C386.55,32.10 387.48,30.65 388.60,29.60 C389.72,28.55 390.88,28.30 392.00,28.30 C393.12,28.30 394.47,29.10 395.30,29.60 C396.13,30.10 396.05,29.78 397.00,31.30 C397.95,32.82 399.65,36.23 401.00,38.70 C402.35,41.17 403.87,43.63 405.10,46.10 C406.33,48.57 407.18,51.27 408.40,53.50 C409.62,55.73 410.95,57.48 412.40,59.50 C413.85,61.52 415.45,63.40 417.10,65.60 C418.75,67.80 420.72,70.58 422.30,72.70 C423.88,74.82 425.17,76.57 426.60,78.30 C428.03,80.03 429.47,81.58 430.90,83.10 C432.33,84.62 433.78,86.15 435.20,87.40 C436.62,88.65 437.98,89.62 439.40,90.60 C440.82,91.58 442.27,92.48 443.70,93.30 C445.13,94.12 446.78,94.80 448.00,95.50 C449.22,96.20 450.50,97.17 451.00,97.50" fill="none" stroke="#000" stroke-width="2.4" stroke-linejoin="round"/>
<path d="M299.80,122.50 C300.40,121.77 302.08,119.42 303.40,118.10 C304.72,116.78 306.77,115.23 307.70,114.60 C308.63,113.97 308.55,113.93 309.00,114.30 C309.45,114.67 309.88,115.92 310.40,116.80 C310.92,117.68 311.37,118.93 312.10,119.60 C312.83,120.27 313.92,120.83 314.80,120.80 C315.68,120.77 316.52,119.97 317.40,119.40 C318.28,118.83 319.18,118.43 320.10,117.40 C321.02,116.37 321.60,114.58 322.90,113.20 C324.20,111.82 326.23,110.27 327.90,109.10 C329.57,107.93 330.95,107.03 332.90,106.20 C334.85,105.37 337.10,104.65 339.60,104.10 C342.10,103.55 345.13,103.27 347.90,102.90 C350.67,102.53 353.43,102.17 356.20,101.90 C358.97,101.63 361.87,101.43 364.50,101.30 C367.13,101.17 367.98,101.05 372.00,101.10 C376.02,101.15 383.05,101.38 388.60,101.60 C394.15,101.82 399.75,102.03 405.30,102.40 C410.85,102.77 416.37,103.38 421.90,103.80 C427.43,104.22 433.93,104.63 438.50,104.90 C443.07,105.17 447.22,105.30 449.30,105.40 C451.38,105.50 450.72,105.48 451.00,105.50" fill="none" stroke="#e3141c" stroke-width="2.4" stroke-linejoin="round"/>
<path d="M299.80,173.60 C300.40,173.67 302.25,173.75 303.40,174.00 C304.55,174.25 305.60,174.60 306.70,175.10 C307.80,175.60 308.88,176.33 310.00,177.00 C311.12,177.67 312.28,178.53 313.40,179.10 C314.52,179.67 315.43,180.15 316.70,180.40 C317.97,180.65 319.40,180.63 321.00,180.60 C322.60,180.57 324.03,180.40 326.30,180.20 C328.57,180.00 331.83,180.23 334.60,179.40 C337.37,178.57 340.40,176.87 342.90,175.20 C345.40,173.53 347.52,171.93 349.60,169.40 C351.68,166.87 353.72,163.23 355.40,160.00 C357.08,156.77 358.43,153.30 359.70,150.00 C360.97,146.70 361.88,143.40 363.00,140.20 C364.12,137.00 365.28,133.70 366.40,130.80 C367.52,127.90 368.58,125.25 369.70,122.80 C370.82,120.35 371.98,117.85 373.10,116.10 C374.22,114.35 375.40,113.08 376.40,112.30 C377.40,111.52 378.20,111.40 379.10,111.40 C380.00,111.40 380.78,111.63 381.80,112.30 C382.82,112.97 383.77,113.38 385.20,115.40 C386.63,117.42 388.87,121.67 390.40,124.40 C391.93,127.13 393.07,129.57 394.40,131.80 C395.73,134.03 397.07,135.90 398.40,137.80 C399.73,139.70 400.95,141.42 402.40,143.20 C403.85,144.98 405.53,146.83 407.10,148.50 C408.67,150.17 410.12,151.63 411.80,153.20 C413.48,154.77 415.52,156.57 417.20,157.90 C418.88,159.23 420.28,160.10 421.90,161.20 C423.52,162.30 424.68,163.27 426.90,164.50 C429.12,165.73 432.57,167.50 435.20,168.60 C437.83,169.70 440.35,170.27 442.70,171.10 C445.05,171.93 447.92,173.08 449.30,173.60 C450.68,174.12 450.72,174.10 451.00,174.20" fill="none" stroke="#000" stroke-width="2.4" stroke-linejoin="round"/>
<path d="M299.80,185.10 C300.08,184.17 300.90,181.23 301.50,179.50 C302.10,177.77 302.63,175.17 303.40,174.70 C304.17,174.23 305.10,175.75 306.10,176.70 C307.10,177.65 308.35,179.55 309.40,180.40 C310.45,181.25 311.40,181.80 312.40,181.80 C313.40,181.80 314.40,181.17 315.40,180.40 C316.40,179.63 317.47,178.27 318.40,177.20 C319.33,176.13 319.97,174.90 321.00,174.00 C322.03,173.10 322.88,172.70 324.60,171.80 C326.32,170.90 329.08,169.42 331.30,168.60 C333.52,167.78 335.13,167.18 337.90,166.90 C340.67,166.62 344.57,166.77 347.90,166.90 C351.23,167.03 354.57,167.37 357.90,167.70 C361.23,168.03 364.55,168.48 367.90,168.90 C371.25,169.32 374.55,169.83 378.00,170.20 C381.45,170.57 384.05,170.77 388.60,171.10 C393.15,171.43 399.75,171.85 405.30,172.20 C410.85,172.55 416.37,172.88 421.90,173.20 C427.43,173.52 433.93,173.82 438.50,174.10 C443.07,174.38 447.22,174.75 449.30,174.90 C451.38,175.05 450.72,174.98 451.00,175.00" fill="none" stroke="#e3141c" stroke-width="2.4" stroke-linejoin="round"/>
<path d="M299.80,231.50 C300.08,230.75 300.88,228.38 301.50,227.00 C302.12,225.62 302.63,224.22 303.50,223.20 C304.37,222.18 305.62,221.20 306.70,220.90 C307.78,220.60 308.88,221.02 310.00,221.40 C311.12,221.78 312.28,222.70 313.40,223.20 C314.52,223.70 315.43,224.20 316.70,224.40 C317.97,224.60 319.40,224.48 321.00,224.40 C322.60,224.32 324.32,224.32 326.30,223.90 C328.28,223.48 330.97,222.73 332.90,221.90 C334.83,221.07 336.43,220.47 337.90,218.90 C339.37,217.33 340.17,214.90 341.70,212.50 C343.23,210.10 345.32,207.40 347.10,204.50 C348.88,201.60 350.73,198.00 352.40,195.10 C354.07,192.20 355.65,189.22 357.10,187.10 C358.55,184.98 359.87,183.42 361.10,182.40 C362.33,181.38 363.27,181.12 364.50,181.00 C365.73,180.88 367.17,180.92 368.50,181.70 C369.83,182.48 371.15,184.13 372.50,185.70 C373.85,187.27 375.25,189.20 376.60,191.10 C377.95,193.00 379.20,195.08 380.60,197.10 C382.00,199.12 383.60,201.42 385.00,203.20 C386.40,204.98 387.57,206.43 389.00,207.80 C390.43,209.17 391.72,209.97 393.60,211.40 C395.48,212.83 397.80,214.87 400.30,216.40 C402.80,217.93 405.83,219.40 408.60,220.60 C411.37,221.80 414.13,222.63 416.90,223.60 C419.67,224.57 422.15,225.52 425.20,226.40 C428.25,227.28 432.15,228.15 435.20,228.90 C438.25,229.65 441.15,230.35 443.50,230.90 C445.85,231.45 448.05,231.92 449.30,232.20 C450.55,232.48 450.72,232.53 451.00,232.60" fill="none" stroke="#000" stroke-width="2.4" stroke-linejoin="round"/>
<path d="M299.80,231.50 C300.08,230.67 300.90,227.97 301.50,226.50 C302.10,225.03 302.53,223.13 303.40,222.70 C304.27,222.27 305.60,223.42 306.70,223.90 C307.80,224.38 308.88,225.40 310.00,225.60 C311.12,225.80 312.28,225.67 313.40,225.10 C314.52,224.53 315.43,223.42 316.70,222.20 C317.97,220.98 319.78,218.83 321.00,217.80 C322.22,216.77 322.98,216.42 324.00,216.00 C325.02,215.58 325.75,215.32 327.10,215.30 C328.45,215.28 330.30,215.43 332.10,215.90 C333.90,216.37 335.82,217.47 337.90,218.10 C339.98,218.73 342.10,219.15 344.60,219.70 C347.10,220.25 349.85,220.90 352.90,221.40 C355.95,221.90 359.72,222.33 362.90,222.70 C366.08,223.07 367.72,223.27 372.00,223.60 C376.28,223.93 383.05,224.28 388.60,224.70 C394.15,225.12 399.75,225.68 405.30,226.10 C410.85,226.52 416.37,226.87 421.90,227.20 C427.43,227.53 433.93,227.87 438.50,228.10 C443.07,228.33 447.22,228.50 449.30,228.60 C451.38,228.70 450.72,228.68 451.00,228.70" fill="none" stroke="#e3141c" stroke-width="2.4" stroke-linejoin="round"/>
<path d="M299.80,279.00 C300.17,278.07 301.13,275.15 302.00,273.40 C302.87,271.65 303.88,269.82 305.00,268.50 C306.12,267.18 307.53,266.02 308.70,265.50 C309.87,264.98 310.88,265.20 312.00,265.40 C313.12,265.60 314.13,266.43 315.40,266.70 C316.67,266.97 317.78,267.13 319.60,267.00 C321.42,266.87 324.08,266.77 326.30,265.90 C328.52,265.03 330.68,263.60 332.90,261.80 C335.12,260.00 337.38,256.90 339.60,255.10 C341.82,253.30 344.40,251.83 346.20,251.00 C348.00,250.17 349.02,250.02 350.40,250.10 C351.78,250.18 353.15,250.92 354.50,251.50 C355.85,252.08 357.25,252.68 358.50,253.60 C359.75,254.52 360.88,255.88 362.00,257.00 C363.12,258.12 364.20,259.27 365.20,260.30 C366.20,261.33 367.10,262.33 368.00,263.20 C368.90,264.07 369.43,264.57 370.60,265.50 C371.77,266.43 373.60,267.83 375.00,268.80 C376.40,269.77 377.57,270.53 379.00,271.30 C380.43,272.07 381.43,272.50 383.60,273.40 C385.77,274.30 389.22,275.78 392.00,276.70 C394.78,277.62 397.25,278.20 400.30,278.90 C403.35,279.60 406.98,280.28 410.30,280.90 C413.62,281.52 416.88,282.05 420.20,282.60 C423.52,283.15 426.87,283.78 430.20,284.20 C433.53,284.62 437.02,284.82 440.20,285.10 C443.38,285.38 447.50,285.75 449.30,285.90 C451.10,286.05 450.72,285.98 451.00,286.00" fill="none" stroke="#000" stroke-width="2.4" stroke-linejoin="round"/>
<path d="M299.80,276.90 C300.17,275.45 301.18,269.90 302.00,268.20 C302.82,266.50 303.70,266.72 304.70,266.70 C305.70,266.68 306.88,267.93 308.00,268.10 C309.12,268.27 310.28,267.98 311.40,267.70 C312.52,267.42 313.53,266.95 314.70,266.40 C315.87,265.85 317.43,264.77 318.40,264.40 C319.37,264.03 319.75,264.08 320.50,264.20 C321.25,264.32 321.80,264.40 322.90,265.10 C324.00,265.80 325.43,267.15 327.10,268.40 C328.77,269.65 330.82,271.48 332.90,272.60 C334.98,273.72 337.10,274.42 339.60,275.10 C342.10,275.78 344.85,276.23 347.90,276.70 C350.95,277.17 354.57,277.53 357.90,277.90 C361.23,278.27 364.55,278.65 367.90,278.90 C371.25,279.15 374.55,279.28 378.00,279.40 C381.45,279.52 384.05,279.48 388.60,279.60 C393.15,279.72 399.75,279.93 405.30,280.10 C410.85,280.27 416.37,280.47 421.90,280.60 C427.43,280.73 433.93,280.80 438.50,280.90 C443.07,281.00 447.22,281.15 449.30,281.20 C451.38,281.25 450.72,281.20 451.00,281.20" fill="none" stroke="#e3141c" stroke-width="2.4" stroke-linejoin="round"/>
<path d="M299.80,309.00 C300.17,307.83 301.18,304.10 302.00,302.00 C302.82,299.90 303.70,297.80 304.70,296.40 C305.70,295.00 306.88,294.17 308.00,293.60 C309.12,293.03 310.17,292.87 311.40,293.00 C312.63,293.13 313.80,293.95 315.40,294.40 C317.00,294.85 318.75,295.28 321.00,295.70 C323.25,296.12 326.60,296.32 328.90,296.90 C331.20,297.48 332.83,298.33 334.80,299.20 C336.77,300.07 338.48,300.88 340.70,302.10 C342.92,303.32 345.63,305.27 348.10,306.50 C350.57,307.73 353.05,308.52 355.50,309.50 C357.95,310.48 360.10,311.55 362.80,312.40 C365.50,313.25 369.17,314.07 371.70,314.60 C374.23,315.13 375.50,315.28 378.00,315.60 C380.50,315.92 382.78,316.00 386.70,316.50 C390.62,317.00 396.58,318.00 401.50,318.60 C406.42,319.20 411.30,319.70 416.20,320.10 C421.10,320.50 425.50,320.68 430.90,321.00 C436.30,321.32 445.25,321.82 448.60,322.00 C451.95,322.18 450.60,322.08 451.00,322.10" fill="none" stroke="#000" stroke-width="2.4" stroke-linejoin="round"/>
<path d="M299.80,309.00 C300.00,307.83 300.63,303.93 301.00,302.00 C301.37,300.07 301.43,298.73 302.00,297.40 C302.57,296.07 303.57,294.57 304.40,294.00 C305.23,293.43 306.07,293.60 307.00,294.00 C307.93,294.40 308.93,295.45 310.00,296.40 C311.07,297.35 312.28,298.53 313.40,299.70 C314.52,300.87 315.60,302.05 316.70,303.40 C317.80,304.75 318.95,306.55 320.00,307.80 C321.05,309.05 321.52,309.83 323.00,310.90 C324.48,311.97 326.68,313.45 328.90,314.20 C331.12,314.95 333.60,315.13 336.30,315.40 C339.00,315.67 341.67,315.68 345.10,315.80 C348.53,315.92 352.97,315.98 356.90,316.10 C360.83,316.22 365.18,316.43 368.70,316.50 C372.22,316.57 375.00,316.50 378.00,316.50 C381.00,316.50 382.78,316.40 386.70,316.50 C390.62,316.60 396.58,316.92 401.50,317.10 C406.42,317.28 411.30,317.47 416.20,317.60 C421.10,317.73 425.50,317.83 430.90,317.90 C436.30,317.97 445.25,317.98 448.60,318.00 C451.95,318.02 450.60,318.00 451.00,318.00" fill="none" stroke="#e3141c" stroke-width="2.4" stroke-linejoin="round"/>
</g>
<line x1="280.1" y1="142.3" x2="298.5" y2="142.3" stroke="#000" stroke-width="1.2" stroke-dasharray="3,2.5"/>
<line x1="280.1" y1="205.1" x2="298.5" y2="205.1" stroke="#000" stroke-width="1.2" stroke-dasharray="3,2.5"/>
<line x1="280.1" y1="252.1" x2="298.5" y2="252.1" stroke="#000" stroke-width="1.2" stroke-dasharray="3,2.5"/>
<line x1="280.1" y1="298.4" x2="298.5" y2="298.4" stroke="#000" stroke-width="1.2" stroke-dasharray="3,2.5"/>
<line x1="430.2" y1="142.8" x2="450" y2="142.8" stroke="#000" stroke-width="1.2" stroke-dasharray="3,2.5"/>
<line x1="430.2" y1="205.1" x2="450" y2="205.1" stroke="#000" stroke-width="1.2" stroke-dasharray="3,2.5"/>
<line x1="430.2" y1="252.1" x2="450" y2="252.1" stroke="#000" stroke-width="1.2" stroke-dasharray="3,2.5"/>
<line x1="430.2" y1="298.4" x2="450" y2="298.4" stroke="#000" stroke-width="1.2" stroke-dasharray="3,2.5"/>
<text x="256.60" y="53.40" font-size="12" text-anchor="start" fill="#000" textLength="39.8" lengthAdjust="spacingAndGlyphs" >360 nm</text>
<text x="256.60" y="152.10" font-size="12" text-anchor="start" fill="#000" textLength="39.8" lengthAdjust="spacingAndGlyphs" >310 nm</text>
<text x="256.60" y="219.40" font-size="12" text-anchor="start" fill="#000" textLength="39.8" lengthAdjust="spacingAndGlyphs" >260 nm</text>
<text x="256.60" y="273.40" font-size="12" text-anchor="start" fill="#000" textLength="39.8" lengthAdjust="spacingAndGlyphs" >210 nm</text>
<text x="406.60" y="39.80" font-size="12" text-anchor="start" fill="#000" textLength="39.8" lengthAdjust="spacingAndGlyphs" >340 nm</text>
<text x="406.60" y="136.60" font-size="12" text-anchor="start" fill="#000" textLength="39.8" lengthAdjust="spacingAndGlyphs" >290 nm</text>
<text x="406.60" y="216.90" font-size="12" text-anchor="start" fill="#000" textLength="39.8" lengthAdjust="spacingAndGlyphs" >240 nm</text>
<text x="406.60" y="273.90" font-size="12" text-anchor="start" fill="#000" textLength="39.8" lengthAdjust="spacingAndGlyphs" >190 nm</text>
<text x="235.2" y="313.0" font-size="11.8"><tspan font-style="italic">L</tspan><tspan font-size="8.5" dy="3">h</tspan><tspan dy="-3">= 160 nm</tspan></text>
<text x="386.4" y="310.6" font-size="11.8"><tspan font-style="italic">L</tspan><tspan font-size="8.5" dy="3">h</tspan><tspan dy="-3">= 140 nm</tspan></text>
<text x="156.7" y="29.1" font-size="14" textLength="48" lengthAdjust="spacingAndGlyphs"><tspan font-style="italic">T</tspan>=30 °C</text>
<text x="156.7" y="48.9" font-size="14" fill="#e3141c" textLength="48" lengthAdjust="spacingAndGlyphs"><tspan font-style="italic">T</tspan>=80 °C</text>
<text x="308.40000000000003" y="29.1" font-size="14" textLength="48" lengthAdjust="spacingAndGlyphs"><tspan font-style="italic">T</tspan>=30 °C</text>
<text x="308.40000000000003" y="48.9" font-size="14" fill="#e3141c" textLength="48" lengthAdjust="spacingAndGlyphs"><tspan font-style="italic">T</tspan>=80 °C</text>
<line x1="157.10" y1="61.00" x2="172.60" y2="61.00" stroke="#000" stroke-width="1.5"/>
<path d="M177.6,61.0 l-6.8,-2.7 l1.6,2.7 l-1.6,2.7z" fill="#000"/>
<text x="158.6" y="75.8" font-size="14.5" font-style="italic">E</text>
<line x1="309.60" y1="60.00" x2="325.10" y2="60.00" stroke="#000" stroke-width="1.5"/>
<path d="M330.1,60.0 l-6.8,-2.7 l1.6,2.7 l-1.6,2.7z" fill="#000"/>
<text x="311.1" y="74.8" font-size="14.5" font-style="italic">E</text>
<text x="524.2" y="27.4" font-size="13.8">VO<tspan font-size="10.3" dy="3.4">2</tspan></text>
<path d="M525.5,133.5 L532.0,132.5 L538.0,131.5 L543.7,131.0 L549.8,131.2 L555.5,131.0 L561.2,130.5 L567.7,128.3 L573.6,126.7 L579.3,123.3 L585.4,111.4 L591.2,107.9 L597.2,95.4 L603.2,75.6 L609.5,50.1 L615.4,35.7 L621.2,28.0 L627.0,21.4" fill="none" stroke="#000" stroke-width="1.7"/>
<circle cx="525.5" cy="133.5" r="3.4" fill="#000"/>
<circle cx="532" cy="132.5" r="3.4" fill="#000"/>
<circle cx="538" cy="131.5" r="3.4" fill="#000"/>
<circle cx="543.7" cy="131" r="3.4" fill="#000"/>
<circle cx="549.8" cy="131.2" r="3.4" fill="#000"/>
<circle cx="555.5" cy="131" r="3.4" fill="#000"/>
<circle cx="561.2" cy="130.5" r="3.4" fill="#000"/>
<circle cx="567.7" cy="128.3" r="3.4" fill="#000"/>
<circle cx="573.6" cy="126.7" r="3.4" fill="#000"/>
<circle cx="579.3" cy="123.3" r="3.4" fill="#000"/>
<circle cx="585.4" cy="111.4" r="3.4" fill="#000"/>
<circle cx="591.2" cy="107.9" r="3.4" fill="#000"/>
<circle cx="597.2" cy="95.4" r="3.4" fill="#000"/>
<circle cx="603.2" cy="75.6" r="3.4" fill="#000"/>
<circle cx="609.5" cy="50.1" r="3.4" fill="#000"/>
<circle cx="615.4" cy="35.7" r="3.4" fill="#000"/>
<circle cx="621.2" cy="28" r="3.4" fill="#000"/>
<circle cx="627" cy="21.4" r="3.4" fill="#000"/>
<path d="M525.6,133.0 L531.7,132.2 L537.3,129.8 L543.7,128.3 L549.8,123.3 L555.6,115.6 L561.7,105.2 L567.6,89.9 L573.6,68.0 L579.4,47.2 L585.2,32.8 L591.2,28.6 L597.3,25.4 L603.4,25.2 L609.5,26.0 L615.4,26.3 L621.3,26.3 L627.5,26.3" fill="none" stroke="#e3141c" stroke-width="1.7"/>
<path d="M525.6,129.1 L529.5,133 L525.6,136.9 L521.7,133z" fill="#e3141c"/>
<path d="M531.7,128.29999999999998 L535.6,132.2 L531.7,136.1 L527.8000000000001,132.2z" fill="#e3141c"/>
<path d="M537.3,125.9 L541.1999999999999,129.8 L537.3,133.70000000000002 L533.4,129.8z" fill="#e3141c"/>
<path d="M543.7,124.4 L547.6,128.3 L543.7,132.20000000000002 L539.8000000000001,128.3z" fill="#e3141c"/>
<path d="M549.8,119.39999999999999 L553.6999999999999,123.3 L549.8,127.2 L545.9,123.3z" fill="#e3141c"/>
<path d="M555.6,111.69999999999999 L559.5,115.6 L555.6,119.5 L551.7,115.6z" fill="#e3141c"/>
<path d="M561.7,101.3 L565.6,105.2 L561.7,109.10000000000001 L557.8000000000001,105.2z" fill="#e3141c"/>
<path d="M567.6,86.0 L571.5,89.9 L567.6,93.80000000000001 L563.7,89.9z" fill="#e3141c"/>
<path d="M573.6,64.1 L577.5,68 L573.6,71.9 L569.7,68z" fill="#e3141c"/>
<path d="M579.4,43.300000000000004 L583.3,47.2 L579.4,51.1 L575.5,47.2z" fill="#e3141c"/>
<path d="M585.2,28.9 L589.1,32.8 L585.2,36.699999999999996 L581.3000000000001,32.8z" fill="#e3141c"/>
<path d="M591.2,24.700000000000003 L595.1,28.6 L591.2,32.5 L587.3000000000001,28.6z" fill="#e3141c"/>
<path d="M597.3,21.5 L601.1999999999999,25.4 L597.3,29.299999999999997 L593.4,25.4z" fill="#e3141c"/>
<path d="M603.4,21.3 L607.3,25.2 L603.4,29.099999999999998 L599.5,25.2z" fill="#e3141c"/>
<path d="M609.5,22.1 L613.4,26 L609.5,29.9 L605.6,26z" fill="#e3141c"/>
<path d="M615.4,22.400000000000002 L619.3,26.3 L615.4,30.2 L611.5,26.3z" fill="#e3141c"/>
<path d="M621.3,22.400000000000002 L625.1999999999999,26.3 L621.3,30.2 L617.4,26.3z" fill="#e3141c"/>
<path d="M627.5,22.400000000000002 L631.4,26.3 L627.5,30.2 L623.6,26.3z" fill="#e3141c"/>
<line x1="566.30" y1="56.50" x2="560.30" y2="78.00" stroke="#e3141c" stroke-width="1.5"/>
<path d="M558.8,84.3 L557.0,75.5 L560.3,77.2 L564.2,77.6z" fill="#e3141c"/>
<line x1="611.00" y1="83.20" x2="617.20" y2="62.50" stroke="#000" stroke-width="1.5"/>
<path d="M618.8,57.0 L620.6,65.8 L617.3,64.1 L613.4,63.7z" fill="#000"/>
<text x="0" y="0" font-size="13.2" text-anchor="middle" transform="translate(482.1,73.6) rotate(-90)">OD<tspan font-size="9.2" dy="2.6">1600nm</tspan></text>
<text x="0" y="0" font-size="13.2" text-anchor="middle" transform="translate(482.1,259.2) rotate(-90)">OD<tspan font-size="9.2" dy="2.6">1600nm</tspan></text>
<text x="526.8" y="213.8" font-size="14" textLength="47.8" lengthAdjust="spacingAndGlyphs"><tspan font-style="italic">T</tspan>=50 °C</text>
<text x="602.4" y="213.7" font-size="13.8">VO<tspan font-size="10.3" dy="3.4">2</tspan></text>
<text x="523.3" y="264.0" font-size="13"><tspan font-style="italic">f</tspan><tspan font-size="9.5" dy="2.6">rep</tspan><tspan dy="-2.6"> =</tspan></text>
<text x="524.20" y="280.40" font-size="13" text-anchor="start" fill="#000" textLength="38.6" lengthAdjust="spacingAndGlyphs" >1 MHz</text>
<text x="582.50" y="323.30" font-size="13.6" text-anchor="start" fill="#000" textLength="48.6" lengthAdjust="spacingAndGlyphs" >0.1 MHz</text>
<g clip-path="url(#cdd)">
<path d="M523.1,316.6 L523.7,316.7 L524.6,316.7 L525.6,316.8 L526.7,316.5 L527.8,317.4 L528.9,316.1 L530.0,316.7 L531.0,317.2 L532.0,316.4 L532.9,317.8 L533.9,318.2 L534.9,315.2 L536.0,316.7 L537.1,317.6 L538.0,317.4 L539.0,315.5 L540.0,317.7 L541.1,318.4 L542.2,318.1 L543.2,318.6 L544.2,319.4 L545.1,318.7 L546.0,318.9 L547.1,315.9 L548.1,318.0 L549.1,317.1 L549.9,316.4 L550.9,315.5 L551.9,318.0 L552.7,318.4 L553.6,316.2 L554.5,317.9 L555.5,318.6 L556.4,318.5 L557.3,317.9 L558.3,315.6 L559.2,318.8 L560.1,317.0 L561.1,316.1 L562.1,316.5 L563.1,315.0 L564.1,315.6 L565.0,315.8 L565.9,315.7 L566.6,316.2 L567.7,314.1 L568.4,316.6 L569.1,316.5 L570.0,316.0 L570.9,313.1 L571.8,313.3 L572.9,313.3 L573.9,312.6 L575.0,311.6 L575.7,311.1 L576.4,312.6 L577.1,309.5 L577.9,311.9 L578.6,308.8 L579.4,310.6 L580.2,308.8 L580.9,307.1 L581.6,309.6 L582.4,306.6 L583.1,308.1 L583.8,304.6 L584.6,304.3 L585.3,304.3 L586.1,302.4 L586.8,301.8 L587.5,302.4 L588.3,301.2 L589.0,300.7 L589.8,299.9 L590.5,299.4 L591.2,298.8 L592.0,299.5 L592.7,296.8 L593.4,298.6 L594.2,295.8 L594.9,294.6 L595.7,295.0 L596.4,294.6 L597.1,294.0 L597.9,291.5 L598.6,294.9 L599.4,292.1 L600.3,291.8 L601.1,291.5 L602.0,289.4 L602.8,288.0 L603.7,289.4 L604.5,287.9 L605.2,289.4 L606.0,286.0 L606.7,287.9 L607.5,284.9 L608.2,286.1 L608.9,283.7 L609.7,284.8 L610.4,283.1 L611.2,282.4 L612.1,282.5 L612.9,281.7 L613.8,282.4 L614.6,281.3 L615.5,279.1 L616.3,279.4 L617.1,278.6 L618.0,278.6 L618.8,278.4 L619.7,277.3 L620.5,277.8 L621.4,277.7 L622.2,276.2 L623.1,274.1 L623.9,276.1 L624.8,275.2 L625.7,274.4 L626.6,276.4 L627.4,274.1 L628.1,274.3 L629.3,272.4 L630.4,273.4 L631.3,272.5 L632.0,270.9" fill="none" stroke="#000" stroke-width="2.6" stroke-linejoin="round"/>
<path d="M523.1,316.2 L523.7,316.3 L524.6,316.3 L525.6,316.4 L526.7,316.4 L527.8,316.5 L528.9,316.6 L530.0,317.0 L531.0,317.3 L532.0,317.2 L532.9,316.7 L533.9,315.9 L534.9,316.8 L536.0,318.6 L537.1,316.7 L538.0,317.5 L539.0,317.9 L540.0,317.8 L541.1,317.4 L542.2,319.1 L543.2,317.2 L544.2,318.6 L545.1,317.7 L546.0,317.9 L547.1,319.1 L548.1,317.4 L549.1,316.1 L549.9,317.8 L550.9,316.7 L551.9,314.2 L552.7,317.1 L553.6,317.8 L554.5,316.7 L555.5,316.3 L556.4,317.9 L557.3,317.0 L558.3,317.9 L559.2,316.9 L560.1,316.3 L561.1,316.8 L562.1,316.0 L563.1,315.9 L564.1,315.4 L565.0,314.5 L565.9,315.6 L566.6,315.0 L567.7,315.0 L568.4,314.1 L569.1,313.5 L570.0,313.4 L570.9,313.5 L571.8,314.1 L572.9,314.0 L573.9,313.4 L575.0,311.5 L575.7,314.5 L576.4,313.3 L577.1,309.5 L577.9,310.0 L578.6,309.9 L579.4,310.1 L580.2,307.2 L580.9,307.9 L581.6,307.2 L582.4,306.2 L583.1,308.4 L583.8,308.3 L584.6,304.1 L585.3,302.5 L586.1,302.7 L586.8,302.2 L587.5,300.4 L588.3,300.6 L589.0,299.6 L589.8,297.5 L590.5,297.6 L591.2,297.9 L592.0,296.8 L592.7,295.8 L593.4,296.1 L594.2,295.7 L594.9,297.6 L595.7,291.7 L596.4,294.5 L597.1,293.2 L597.9,292.1 L598.6,292.2 L599.4,291.6 L600.3,291.9 L601.1,288.2 L602.0,290.9 L602.8,288.4 L603.7,290.0 L604.5,288.6 L605.2,288.5 L606.0,286.2 L606.7,286.0 L607.5,284.2 L608.2,282.9 L608.9,286.8 L609.7,284.0 L610.4,281.5 L611.2,284.0 L612.1,282.6 L612.9,278.7 L613.8,280.5 L614.6,278.6 L615.5,279.6 L616.3,279.4 L617.1,279.5 L618.0,279.8 L618.8,278.9 L619.7,277.9 L620.5,279.7 L621.4,276.7 L622.2,275.2 L623.1,274.9 L623.9,273.8 L624.8,275.7 L625.7,273.9 L626.6,271.6 L627.4,272.9 L628.1,272.6 L629.3,272.6 L630.4,272.2 L631.3,270.6 L632.0,272.0" fill="none" stroke="#e3141c" stroke-width="2.3" stroke-linejoin="round"/>
<path d="M543.6,317.5 L545.6,323 L546.6,324.6 L547.6,323 L549.2,317.5z" fill="#e3141c" stroke="#e3141c" stroke-width="0.8" stroke-linejoin="round"/>
<path d="M523.1,316.9 L523.7,317.0 L524.5,317.0 L525.4,317.8 L526.5,317.4 L527.6,317.0 L528.7,316.8 L529.7,318.1 L530.6,317.8 L531.5,317.1 L532.4,317.7 L533.4,318.6 L534.3,318.4 L535.2,317.3 L536.2,319.1 L537.1,318.8 L538.1,317.4 L539.0,318.5 L540.0,317.6 L541.0,316.8 L542.0,318.4 L542.9,317.6 L543.8,316.9 L544.5,317.4 L545.6,318.7 L546.4,317.0 L547.1,317.3 L548.1,317.0 L549.0,316.9 L550.0,316.4 L551.0,316.2 L552.1,315.2 L553.1,316.3 L554.1,315.8 L555.2,315.4 L556.1,316.2 L557.1,315.8 L558.0,315.9 L559.0,314.9 L560.0,314.9 L561.0,314.6 L562.0,313.4 L562.9,312.7 L563.8,313.3 L564.6,313.5 L565.4,311.7 L566.1,311.2 L566.7,310.5 L567.4,310.4 L567.9,309.6 L568.5,308.0 L569.0,308.1 L569.5,306.9 L569.9,305.1 L570.4,306.1 L570.8,304.5 L571.1,303.8 L571.4,302.0 L571.8,302.1 L572.1,301.0 L572.4,300.1 L572.8,299.1 L573.0,298.4 L573.2,297.3 L573.4,297.3 L573.7,295.5 L573.9,295.2 L574.1,295.1 L574.4,293.0 L574.6,291.6 L574.8,290.5 L575.1,289.8 L575.3,289.5 L575.6,287.7 L575.8,287.7 L576.1,285.0 L576.5,285.3 L576.8,284.3 L577.1,282.5 L577.5,281.8 L577.8,281.0 L578.2,279.1 L578.5,279.0 L578.7,279.5 L579.0,278.6 L579.7,276.9 L580.1,275.3 L580.6,274.6 L581.4,274.4 L582.2,273.4 L582.6,272.9 L583.1,271.2 L583.5,271.3 L584.0,269.4 L584.6,269.3 L585.0,266.8 L585.5,268.0 L586.0,266.0 L586.4,265.3 L586.9,264.6 L587.4,263.4 L587.9,262.3 L588.4,261.7 L589.0,260.2 L589.6,260.3 L590.1,260.2 L590.6,258.2 L591.1,258.3 L591.8,256.8 L592.3,256.6 L592.9,256.1 L593.5,254.4 L594.7,254.8 L595.9,254.6 L596.4,253.8 L596.9,252.2 L597.3,251.9 L597.8,249.9 L598.3,248.8 L599.1,248.1 L599.9,248.6 L600.7,246.7 L601.9,246.3 L603.1,245.2 L603.7,245.7 L604.3,243.9 L604.9,243.6 L605.5,242.7 L606.0,242.3 L606.4,240.7 L606.9,240.4 L607.4,239.2 L607.9,239.0 L608.6,237.5 L609.4,237.7 L610.2,236.1 L611.1,236.3 L611.8,235.2 L612.6,236.3 L613.4,234.8 L614.2,234.3 L615.0,233.7 L615.8,234.5 L616.6,232.6 L617.4,232.4 L618.2,230.1 L619.0,230.2 L619.9,229.3 L620.7,229.2 L621.6,228.3 L622.5,228.9 L623.3,227.6 L624.2,226.3 L625.1,226.3 L626.0,226.3 L626.8,225.6 L628.0,225.7 L629.1,225.0 L630.0,225.2 L631.5,224.7" fill="none" stroke="#000" stroke-width="1.9" stroke-linejoin="round"/>
<path d="M523.1,316.1 L523.8,316.0 L524.7,315.8 L525.8,315.1 L527.0,315.6 L527.8,315.1 L528.7,313.6 L529.6,314.6 L530.6,314.2 L531.5,314.4 L532.4,313.6 L533.4,314.0 L534.4,314.2 L535.3,313.8 L536.2,314.1 L537.2,315.0 L538.2,313.8 L539.2,314.6 L540.1,313.3 L541.1,312.6 L542.1,311.9 L543.1,311.9 L544.0,312.2 L545.0,310.5 L545.9,311.6 L546.9,310.4 L547.9,310.2 L548.9,311.4 L549.9,310.2 L550.8,309.5 L551.7,309.3 L552.7,308.5 L553.6,308.5 L554.5,307.3 L555.3,305.6 L556.1,306.1 L556.9,305.7 L557.6,305.5 L558.3,303.2 L558.7,303.2 L559.2,303.2 L559.6,302.1 L560.0,300.3 L560.4,300.0 L560.8,299.2 L561.2,297.9 L561.5,297.2 L561.9,296.5 L562.2,296.1 L562.6,295.1 L562.9,294.1 L563.2,293.5 L563.5,292.3 L563.8,291.8 L564.1,290.5 L564.4,288.4 L564.7,288.0 L565.0,287.0 L565.3,286.2 L565.5,286.0 L565.8,285.2 L566.0,283.2 L566.3,282.5 L566.6,282.5 L566.8,281.0 L567.1,280.1 L567.3,278.7 L567.6,278.0 L567.9,276.8 L568.1,276.1 L568.4,275.0 L568.6,274.2 L568.8,272.6 L569.0,272.1 L569.1,271.2 L569.3,270.1 L569.5,270.0 L569.7,268.8 L569.9,267.6 L570.1,265.5 L570.4,264.4 L570.7,265.2 L571.0,264.2 L571.3,262.7 L571.6,261.7 L571.9,260.3 L572.3,259.8 L572.7,259.5 L573.1,258.4 L573.5,257.7 L573.9,257.9 L574.3,256.1 L574.8,255.9 L575.3,254.4 L575.8,253.8 L576.3,252.9 L576.7,252.4 L577.1,251.0 L577.5,250.7 L577.9,250.0 L578.2,247.2 L578.5,247.8 L579.0,247.1 L579.4,245.6 L579.7,245.5 L579.9,243.7 L580.0,242.6 L580.3,241.2 L581.1,240.1 L582.1,240.3 L583.5,240.1 L584.1,239.8 L584.8,238.8 L585.5,238.0 L586.2,238.0 L586.9,238.0 L587.5,235.7 L588.2,235.3 L589.0,234.1 L589.7,232.0 L590.5,232.9 L591.3,232.9 L592.2,232.0 L593.0,230.6 L593.8,231.7 L594.5,229.6 L595.2,229.3 L596.0,229.0 L597.0,228.6 L597.7,228.2 L598.5,227.9 L599.3,228.6 L600.1,224.9 L601.0,225.8 L601.8,225.0 L602.7,225.2 L603.5,225.2 L604.4,224.7 L605.3,223.3 L606.2,223.5 L607.2,223.5 L608.1,223.1 L609.0,223.5 L609.9,223.2 L610.8,223.5 L611.7,221.2 L612.6,223.0 L613.6,223.1 L614.5,223.9 L615.4,224.2 L616.3,223.0 L617.2,222.9 L618.2,223.6 L619.1,222.0 L620.0,222.9 L620.9,223.2 L621.9,222.7 L622.8,222.6 L623.8,222.0 L624.8,223.8 L625.8,223.4 L626.8,222.4 L627.7,223.4 L628.5,223.9 L629.2,223.9 L630.5,225.6 L631.0,225.5" fill="none" stroke="#e3141c" stroke-width="1.7" stroke-linejoin="round"/>
</g>
<rect x="628.6" y="222.6" width="4.6" height="4.6" fill="#e020e0"/>
<rect x="628.6" y="268.8" width="4.6" height="4.6" fill="#e020e0"/>
<circle cx="523.2" cy="316.2" r="2.4" fill="#3ddc3d"/>
<rect x="558.6" y="285.8" width="16" height="17" rx="6" fill="none" stroke="#3ddc3d" stroke-width="1.1"/>
<line x1="549.60" y1="285.20" x2="559.00" y2="289.80" stroke="#3ddc3d" stroke-width="1.1"/>
<rect x="593.8" y="285.1" width="19" height="16" rx="6" fill="none" stroke="#3ddc3d" stroke-width="1.1"/>
<line x1="609.70" y1="301.00" x2="617.20" y2="308.60" stroke="#3ddc3d" stroke-width="1.1"/>
<line x1="572.50" y1="245.50" x2="567.00" y2="258.50" stroke="#e3141c" stroke-width="1.4"/>
<path d="M565.2,264.2 L564.4,256.6 L567.3,258.3 L570.6,258.9z" fill="#e3141c"/>
<line x1="601.00" y1="263.50" x2="606.60" y2="251.00" stroke="#000" stroke-width="1.5"/>
<path d="M608.7,245.0 L609.9,252.4 L606.8,250.6 L603.5,251.2z" fill="#000"/></svg>
</body></html>
